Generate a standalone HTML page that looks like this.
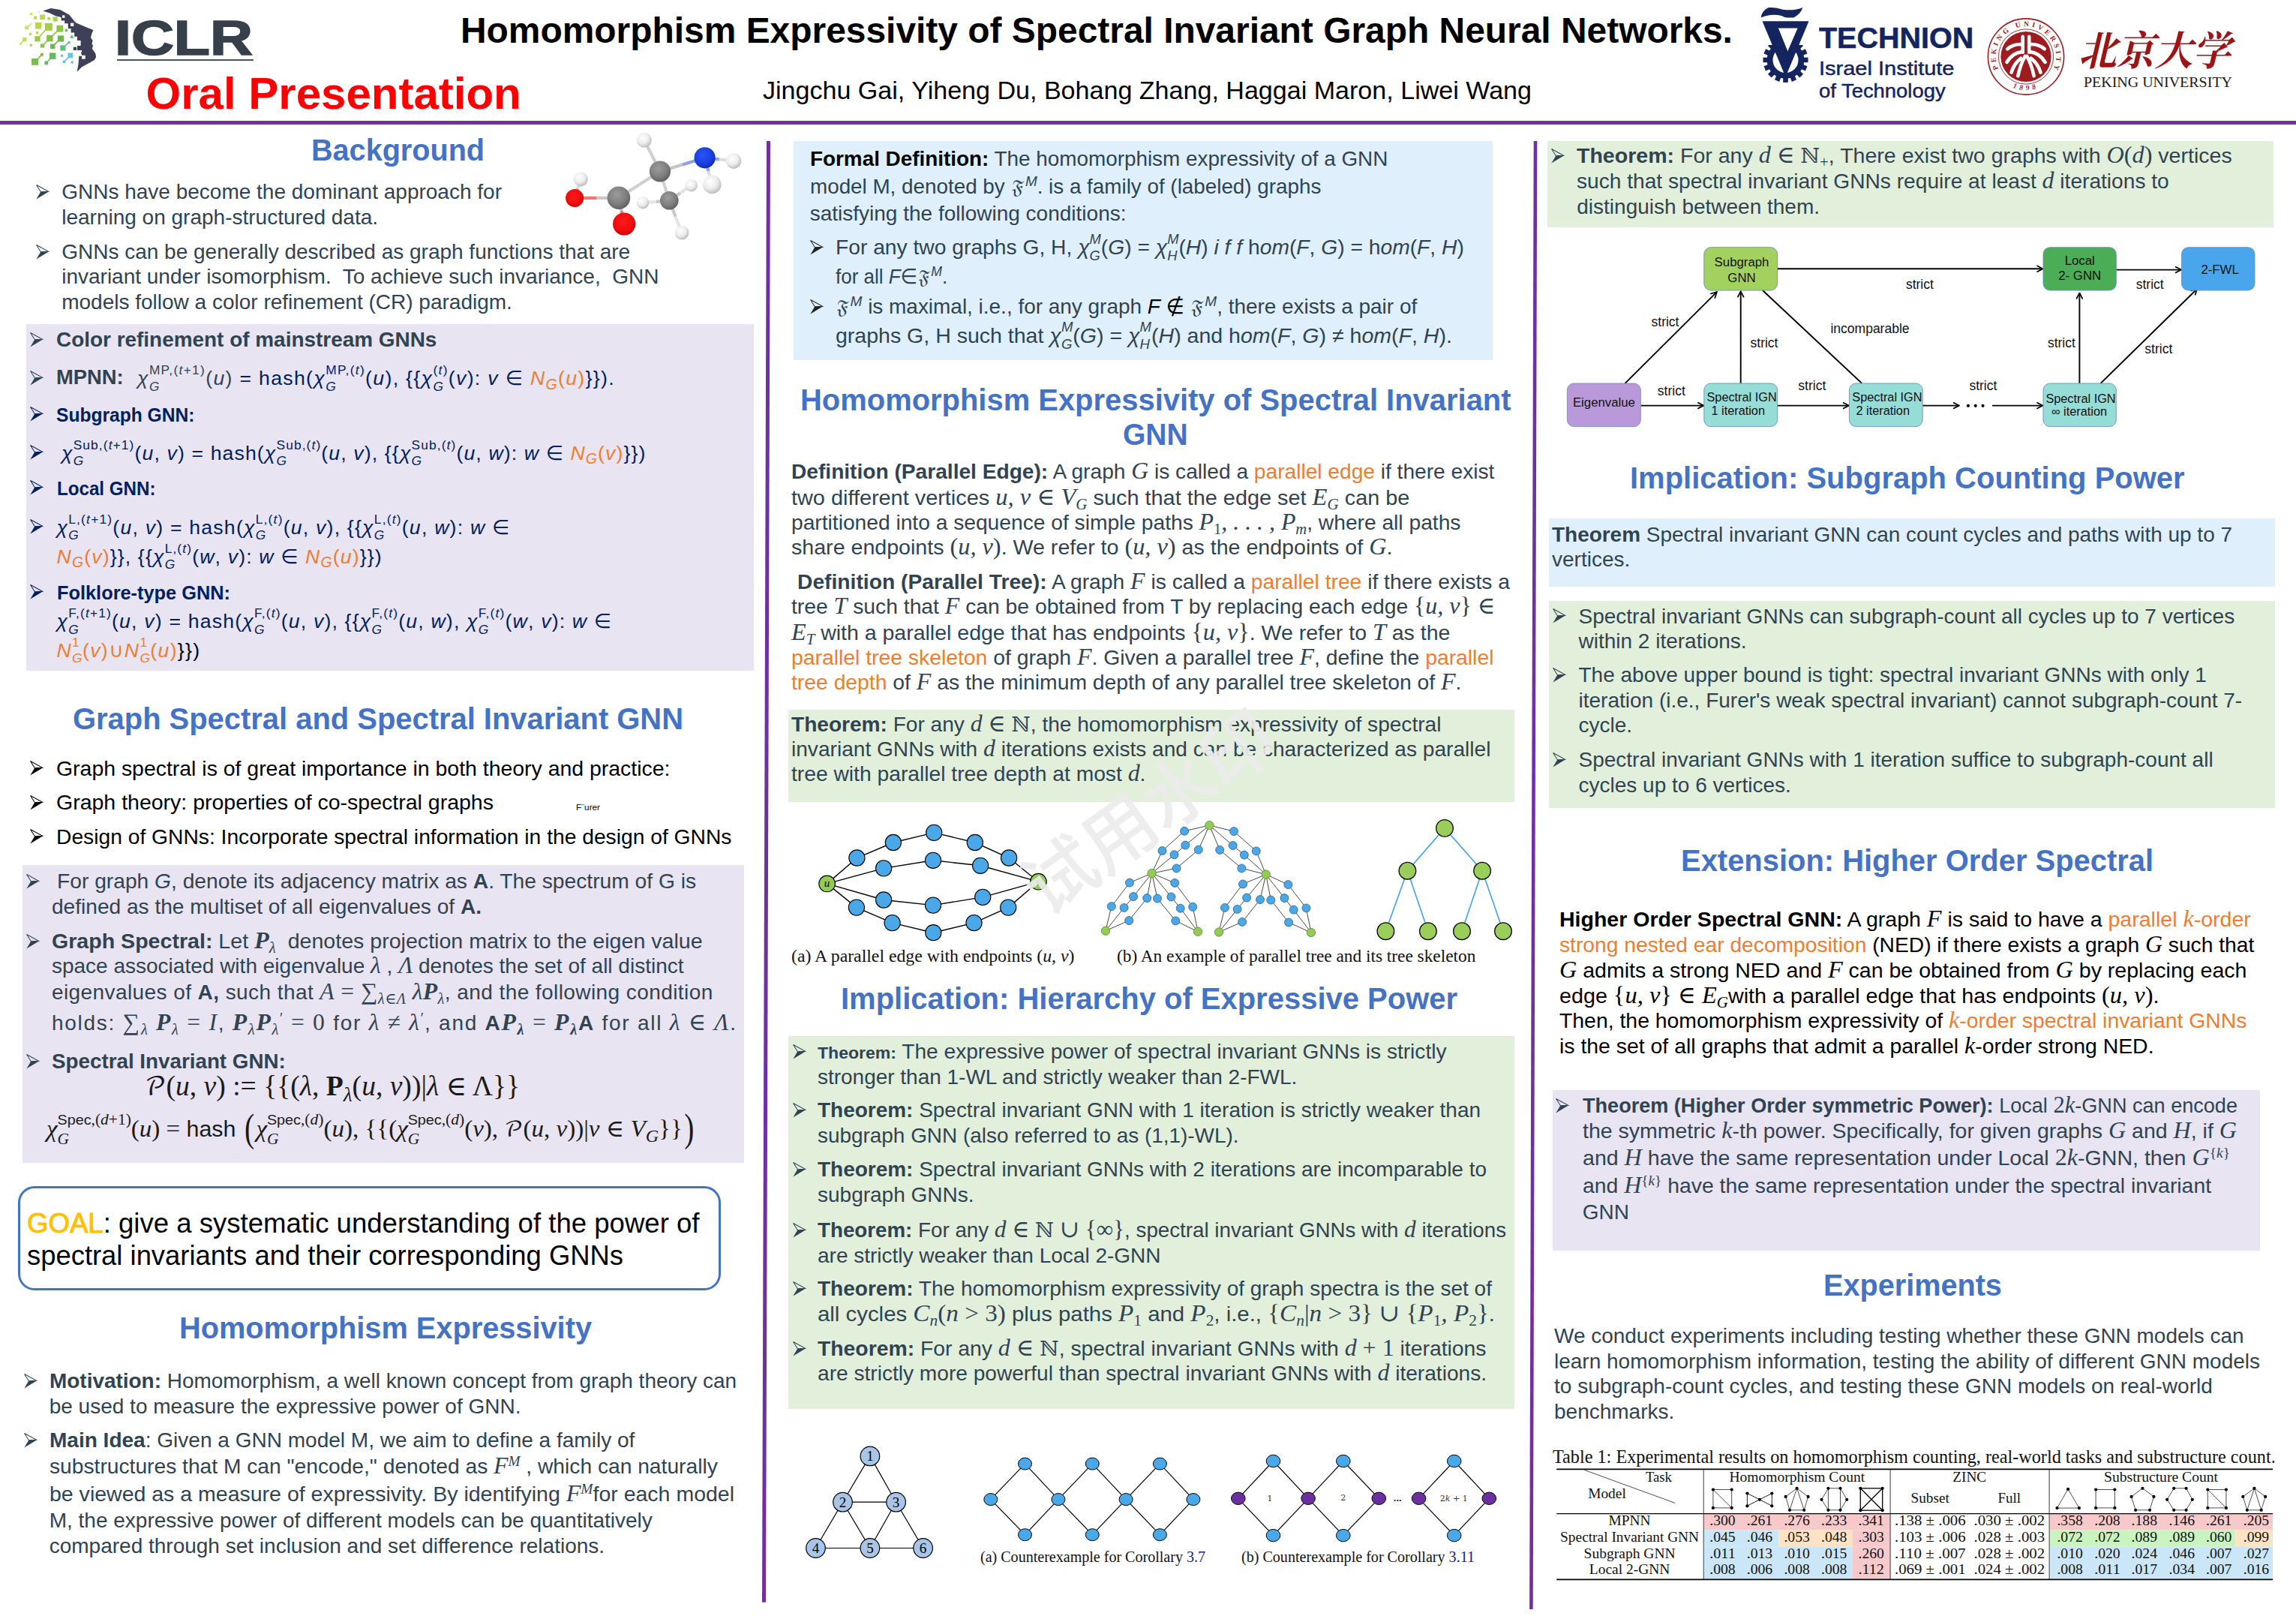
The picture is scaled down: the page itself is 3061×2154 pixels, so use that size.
<!DOCTYPE html>
<html lang="en"><head><meta charset="utf-8"><title>Homomorphism Expressivity of Spectral Invariant Graph Neural Networks</title>
<style>
html,body{margin:0;padding:0}
body{width:3061px;height:2154px;position:relative;overflow:hidden;background:#fff;font-family:"Liberation Sans","DejaVu Sans","DejaVu Math TeX Gyre",sans-serif}
.bx{position:absolute;box-sizing:content-box}
.t{position:absolute;white-space:nowrap;line-height:1;transform-origin:0 50%}
.t i,.t b{line-height:0}
.m{font-family:"Liberation Serif","DejaVu Serif",serif;font-style:italic;font-size:1.13em;line-height:0}
.mu{font-family:"Liberation Serif","DejaVu Serif","DejaVu Sans",serif;font-size:1.13em;line-height:0}
.su{font-size:.68em;position:relative;top:-.52em;line-height:0}
.sb{font-size:.73em;position:relative;top:.3em;line-height:0}
.su .m,.sb .m,.su .mu,.sb .mu{font-size:1em}
.ss{display:inline-block;position:relative;line-height:0}
.ss>span{font-size:.65em;line-height:0}
.ss>.u{position:relative;top:-.8em}
.ss>.d{position:absolute;left:0;top:.62em}
.fr{font-family:"DejaVu Math TeX Gyre","DejaVu Sans",serif;line-height:0;font-size:.82em}
.bbn{font-family:'DejaVu Serif','DejaVu Sans',serif;line-height:0;font-size:.98em}
.cal{font-family:"DejaVu Math TeX Gyre","DejaVu Serif",serif;line-height:0;font-size:.9em}
.sf{font-family:"Liberation Sans",sans-serif;font-size:.92em}
.bigp{font-size:1.7em;line-height:0;position:relative;top:.12em;font-weight:normal;display:inline-block;transform:scaleX(.7)}
svg{position:absolute;overflow:visible}
.wm{position:absolute;left:1228px;top:1017px;width:600px;height:120px;line-height:120px;text-align:center;font-family:'Noto Sans CJK SC','WenQuanYi Zen Hei',sans-serif;font-size:97px;font-weight:500;color:rgba(235,235,235,.92);transform:rotate(-35.6deg);white-space:nowrap;pointer-events:none}
svg text{font-family:"Liberation Sans",sans-serif}
</style></head>
<body>
<div class="bx" style="left:0.0px;top:161.0px;width:3061.0px;height:5.0px;background:#7030a0;"></div>
<div class="t" style="left:153.2px;top:19.2px;font-size:64.5px;color:#363f4a;font-weight:bold;transform:scaleX(1.2227);-webkit-text-stroke:1.6px #363f4a;">ICLR</div>
<div class="bx" style="left:155.6px;top:79.2px;width:182.0px;height:1.7px;background:#4a535e;"></div>
<div class="t" style="left:194.6px;top:95.0px;font-size:60px;color:#ff0000;font-weight:bold;">Oral Presentation</div>
<div class="t" style="left:614.0px;top:17.1px;font-size:48px;color:#000;font-weight:bold;transform:scaleX(0.9981);">Homomorphism Expressivity of Spectral Invariant Graph Neural Networks.</div>
<div class="t" style="left:1017.0px;top:102.7px;font-size:34px;color:#000;transform:scaleX(1.0018);">Jingchu Gai, Yiheng Du, Bohang Zhang, Haggai Maron, Liwei Wang</div>
<div class="t" style="left:415.0px;top:180.1px;font-size:40px;color:#4472c4;font-weight:bold;transform:scaleX(0.9899);">Background</div>
<svg style="left:47.8px;top:246.2px" width="17.5" height="20" viewBox="0 0 19 21" preserveAspectRatio="none"><path d="M6.7 10.3 18.3 9.9 0.4 20.4Z" fill="#304352"/><path d="M0.6 0.6 18 9.8 6.9 10.2Z" fill="none" stroke="#304352" stroke-width="1.1" stroke-linejoin="miter"/></svg>
<div class="t" style="left:82.2px;top:242.3px;font-size:28px;color:#304352;">GNNs have become the dominant approach for</div>
<div class="t" style="left:82.2px;top:275.7px;font-size:28px;color:#304352;">learning on graph-structured data.</div>
<svg style="left:47.8px;top:325.6px" width="17.5" height="20" viewBox="0 0 19 21" preserveAspectRatio="none"><path d="M6.7 10.3 18.3 9.9 0.4 20.4Z" fill="#304352"/><path d="M0.6 0.6 18 9.8 6.9 10.2Z" fill="none" stroke="#304352" stroke-width="1.1" stroke-linejoin="miter"/></svg>
<div class="t" style="left:82.2px;top:321.7px;font-size:28px;color:#304352;">GNNs can be generally described as graph functions that are</div>
<div class="t" style="left:82.2px;top:355.1px;font-size:28px;color:#304352;">invariant under isomorphism.&nbsp; To achieve such invariance,&nbsp; GNN</div>
<div class="t" style="left:82.2px;top:388.5px;font-size:28px;color:#304352;">models follow a color refinement (CR) paradigm.</div>
<div class="bx" style="left:35.0px;top:432.0px;width:970.0px;height:462.0px;background:#e9e4f1;"></div>
<svg style="left:39.8px;top:443.2px" width="17.5" height="20" viewBox="0 0 19 21" preserveAspectRatio="none"><path d="M6.7 10.3 18.3 9.9 0.4 20.4Z" fill="#304352"/><path d="M0.6 0.6 18 9.8 6.9 10.2Z" fill="none" stroke="#304352" stroke-width="1.1" stroke-linejoin="miter"/></svg>
<div class="t" style="left:74.6px;top:439.3px;font-size:28px;color:#304352;font-weight:bold;transform:scaleX(0.9973);">Color refinement of mainstream GNNs</div>
<svg style="left:39.8px;top:493.5px" width="17.5" height="20" viewBox="0 0 19 21" preserveAspectRatio="none"><path d="M6.7 10.3 18.3 9.9 0.4 20.4Z" fill="#304352"/><path d="M0.6 0.6 18 9.8 6.9 10.2Z" fill="none" stroke="#304352" stroke-width="1.1" stroke-linejoin="miter"/></svg>
<div class="t" style="left:74.8px;top:490.4px;font-size:27px;color:#304352;font-weight:bold;transform:scaleX(1.0124);">MPNN:</div>
<div class="t" style="left:183.0px;top:490.8px;font-size:26.6px;color:#304352;letter-spacing:1.345px;"><i>χ</i><span class="ss"><span class="u">MP,(<i>t</i>+1)</span><span class="d"><i>G</i></span></span>(<i>u</i>) <span style="color:#002060">= hash(</span><span style="color:#002060"><i>χ</i><span class="ss"><span class="u">MP,(<i>t</i>)</span><span class="d"><i>G</i></span></span>(<i>u</i>), {{<i>χ</i><span class="ss"><span class="u">(<i>t</i>)</span><span class="d"><i>G</i></span></span>(<i>v</i>): <i>v</i> ∈ </span><span style="color:#ed7d31"><i>N<span class="sb">G</span></i>(<i>u</i>)</span><span style="color:#002060">}}).</span></div>
<svg style="left:39.8px;top:542.2px" width="17.5" height="20" viewBox="0 0 19 21" preserveAspectRatio="none"><path d="M6.7 10.3 18.3 9.9 0.4 20.4Z" fill="#002060"/><path d="M0.6 0.6 18 9.8 6.9 10.2Z" fill="none" stroke="#002060" stroke-width="1.1" stroke-linejoin="miter"/></svg>
<div class="t" style="left:74.6px;top:540.8px;font-size:25px;color:#002060;font-weight:bold;transform:scaleX(0.9835);">Subgraph GNN:</div>
<svg style="left:39.8px;top:593.2px" width="17.5" height="20" viewBox="0 0 19 21" preserveAspectRatio="none"><path d="M6.7 10.3 18.3 9.9 0.4 20.4Z" fill="#002060"/><path d="M0.6 0.6 18 9.8 6.9 10.2Z" fill="none" stroke="#002060" stroke-width="1.1" stroke-linejoin="miter"/></svg>
<div class="t" style="left:82.0px;top:590.5px;font-size:26.6px;color:#002060;letter-spacing:1.137px;"><i>χ</i><span class="ss"><span class="u">Sub,(<i>t</i>+1)</span><span class="d"><i>G</i></span></span>(<i>u</i>, <i>v</i>) = hash(<i>χ</i><span class="ss"><span class="u">Sub,(<i>t</i>)</span><span class="d"><i>G</i></span></span>(<i>u</i>, <i>v</i>), {{<i>χ</i><span class="ss"><span class="u">Sub,(<i>t</i>)</span><span class="d"><i>G</i></span></span>(<i>u</i>, <i>w</i>): <i>w</i> ∈ <span style="color:#ed7d31"><i>N<span class="sb">G</span></i>(<i>v</i>)</span>}})</div>
<svg style="left:39.8px;top:640.2px" width="17.5" height="20" viewBox="0 0 19 21" preserveAspectRatio="none"><path d="M6.7 10.3 18.3 9.9 0.4 20.4Z" fill="#002060"/><path d="M0.6 0.6 18 9.8 6.9 10.2Z" fill="none" stroke="#002060" stroke-width="1.1" stroke-linejoin="miter"/></svg>
<div class="t" style="left:75.5px;top:638.8px;font-size:25px;color:#002060;font-weight:bold;transform:scaleX(0.9660);">Local GNN:</div>
<svg style="left:39.8px;top:692.2px" width="17.5" height="20" viewBox="0 0 19 21" preserveAspectRatio="none"><path d="M6.7 10.3 18.3 9.9 0.4 20.4Z" fill="#002060"/><path d="M0.6 0.6 18 9.8 6.9 10.2Z" fill="none" stroke="#002060" stroke-width="1.1" stroke-linejoin="miter"/></svg>
<div class="t" style="left:75.5px;top:689.5px;font-size:26.6px;color:#002060;letter-spacing:1.230px;"><i>χ</i><span class="ss"><span class="u">L,(<i>t</i>+1)</span><span class="d"><i>G</i></span></span>(<i>u</i>, <i>v</i>) = hash(<i>χ</i><span class="ss"><span class="u">L,(<i>t</i>)</span><span class="d"><i>G</i></span></span>(<i>u</i>, <i>v</i>), {{<i>χ</i><span class="ss"><span class="u">L,(<i>t</i>)</span><span class="d"><i>G</i></span></span>(<i>u</i>, <i>w</i>): <i>w</i> ∈</div>
<div class="t" style="left:75.5px;top:728.5px;font-size:26.6px;color:#002060;letter-spacing:1.161px;"><span style="color:#ed7d31"><i>N<span class="sb">G</span></i>(<i>v</i>)</span>}}, {{<i>χ</i><span class="ss"><span class="u">L,(<i>t</i>)</span><span class="d"><i>G</i></span></span>(<i>w</i>, <i>v</i>): <i>w</i> ∈ <span style="color:#ed7d31"><i>N<span class="sb">G</span></i>(<i>u</i>)</span>}})</div>
<svg style="left:39.8px;top:779.2px" width="17.5" height="20" viewBox="0 0 19 21" preserveAspectRatio="none"><path d="M6.7 10.3 18.3 9.9 0.4 20.4Z" fill="#002060"/><path d="M0.6 0.6 18 9.8 6.9 10.2Z" fill="none" stroke="#002060" stroke-width="1.1" stroke-linejoin="miter"/></svg>
<div class="t" style="left:75.5px;top:777.8px;font-size:25px;color:#002060;font-weight:bold;transform:scaleX(1.0141);">Folklore-type GNN:</div>
<div class="t" style="left:75.5px;top:815.1px;font-size:26.6px;color:#002060;letter-spacing:1.193px;"><i>χ</i><span class="ss"><span class="u">F,(<i>t</i>+1)</span><span class="d"><i>G</i></span></span>(<i>u</i>, <i>v</i>) = hash(<i>χ</i><span class="ss"><span class="u">F,(<i>t</i>)</span><span class="d"><i>G</i></span></span>(<i>u</i>, <i>v</i>), {{<i>χ</i><span class="ss"><span class="u">F,(<i>t</i>)</span><span class="d"><i>G</i></span></span>(<i>u</i>, <i>w</i>), <i>χ</i><span class="ss"><span class="u">F,(<i>t</i>)</span><span class="d"><i>G</i></span></span>(<i>w</i>, <i>v</i>): <i>w</i> ∈</div>
<div class="t" style="left:75.5px;top:853.5px;font-size:26.6px;color:#002060;letter-spacing:1.361px;"><span style="color:#ed7d31"><i>N</i><span class="ss" style="min-width:.52em"><span class="u">1</span><span class="d"><i>G</i></span></span>(<i>v</i>)∪<i>N</i><span class="ss" style="min-width:.52em"><span class="u">1</span><span class="d"><i>G</i></span></span>(<i>u</i>)</span><span style="color:#000">}})</span></div>
<div class="t" style="left:96.8px;top:938.1px;font-size:40px;color:#4472c4;font-weight:bold;transform:scaleX(0.9978);">Graph Spectral and Spectral Invariant GNN</div>
<svg style="left:39.8px;top:1014.2px" width="17.5" height="20" viewBox="0 0 19 21" preserveAspectRatio="none"><path d="M6.7 10.3 18.3 9.9 0.4 20.4Z" fill="#000"/><path d="M0.6 0.6 18 9.8 6.9 10.2Z" fill="none" stroke="#000" stroke-width="1.1" stroke-linejoin="miter"/></svg>
<div class="t" style="left:74.6px;top:1010.0px;font-size:28.3px;color:#000;transform:scaleX(1.0045);">Graph spectral is of great importance in both theory and practice:</div>
<svg style="left:39.8px;top:1059.5px" width="17.5" height="20" viewBox="0 0 19 21" preserveAspectRatio="none"><path d="M6.7 10.3 18.3 9.9 0.4 20.4Z" fill="#000"/><path d="M0.6 0.6 18 9.8 6.9 10.2Z" fill="none" stroke="#000" stroke-width="1.1" stroke-linejoin="miter"/></svg>
<div class="t" style="left:74.6px;top:1055.3px;font-size:28.3px;color:#000;transform:scaleX(1.0072);">Graph theory: properties of co-spectral graphs</div>
<div class="t" style="left:767.6px;top:1071.1px;font-size:10.5px;color:#000;transform:scaleX(1.1191);">F¨urer</div>
<svg style="left:39.8px;top:1105.2px" width="17.5" height="20" viewBox="0 0 19 21" preserveAspectRatio="none"><path d="M6.7 10.3 18.3 9.9 0.4 20.4Z" fill="#000"/><path d="M0.6 0.6 18 9.8 6.9 10.2Z" fill="none" stroke="#000" stroke-width="1.1" stroke-linejoin="miter"/></svg>
<div class="t" style="left:74.6px;top:1101.0px;font-size:28.3px;color:#000;transform:scaleX(0.9974);">Design of GNNs: Incorporate spectral information in the design of GNNs</div>
<div class="bx" style="left:30.0px;top:1153.0px;width:962.0px;height:396.5px;background:#e9e4f1;"></div>
<svg style="left:35.3px;top:1165.2px" width="17.5" height="20" viewBox="0 0 19 21" preserveAspectRatio="none"><path d="M6.7 10.3 18.3 9.9 0.4 20.4Z" fill="#304352"/><path d="M0.6 0.6 18 9.8 6.9 10.2Z" fill="none" stroke="#304352" stroke-width="1.1" stroke-linejoin="miter"/></svg>
<div class="t" style="left:75.5px;top:1161.3px;font-size:28px;color:#304352;transform:scaleX(1.0070);">For graph <i>G</i>, denote its adjacency matrix as <b>A</b>. The spectrum of G is</div>
<div class="t" style="left:68.9px;top:1194.6px;font-size:28px;color:#304352;transform:scaleX(1.0031);">defined as the multiset of all eigenvalues of <b>A.</b></div>
<svg style="left:35.3px;top:1245.2px" width="17.5" height="20" viewBox="0 0 19 21" preserveAspectRatio="none"><path d="M6.7 10.3 18.3 9.9 0.4 20.4Z" fill="#304352"/><path d="M0.6 0.6 18 9.8 6.9 10.2Z" fill="none" stroke="#304352" stroke-width="1.1" stroke-linejoin="miter"/></svg>
<div class="t" style="left:68.9px;top:1241.3px;font-size:28px;color:#304352;transform:scaleX(1.0207);"><b>Graph Spectral:</b> Let <b class="m">P</b><span class="sb"><i class="m" style="font-size:1em">λ</i></span>&nbsp; denotes projection matrix to the eigen value</div>
<div class="t" style="left:68.9px;top:1273.7px;font-size:28px;color:#304352;letter-spacing:0.007px;">space associated with eigenvalue <span class="m">λ</span> , <span class="m">Λ</span> denotes the set of all distinct</div>
<div class="t" style="left:68.9px;top:1308.8px;font-size:28px;color:#304352;letter-spacing:0.424px;">eigenvalues of <b>A,</b> such that <span class="m">A</span> <span class="mu">= ∑</span><span class="sb"><span class="m">λ∈Λ</span></span> <span class="m">λ</span><b class="m">P</b><span class="sb"><i class="m" style="font-size:1em">λ</i></span>, and the following condition</div>
<div class="t" style="left:68.9px;top:1350.0px;font-size:28px;color:#304352;letter-spacing:1.744px;">holds: <span class="mu">∑</span><span class="sb"><span class="m">λ</span></span> <b class="m">P</b><span class="sb"><i class="m" style="font-size:1em">λ</i></span> <span class="mu">=</span> <span class="m">I</span>, <b class="m">P</b><span class="sb"><i class="m" style="font-size:1em">λ</i></span><b class="m">P</b><span class="sb"><i class="m" style="font-size:1em">λ</i></span><span class="su">′</span> <span class="mu">= 0</span> for <span class="m">λ</span> <span class="mu">≠</span> <span class="m">λ</span><span class="su">′</span>, and <b>A</b><b class="m">P</b><span class="sb"><b class="m" style="font-size:1em">λ</b></span> <span class="mu">=</span> <b class="m">P</b><span class="sb"><b class="m" style="font-size:1em">λ</b></span><b>A</b> for all <span class="m">λ</span> <span class="mu">∈</span> <span class="m">Λ</span>.</div>
<svg style="left:35.3px;top:1405.1px" width="17.5" height="20" viewBox="0 0 19 21" preserveAspectRatio="none"><path d="M6.7 10.3 18.3 9.9 0.4 20.4Z" fill="#304352"/><path d="M0.6 0.6 18 9.8 6.9 10.2Z" fill="none" stroke="#304352" stroke-width="1.1" stroke-linejoin="miter"/></svg>
<div class="t" style="left:68.9px;top:1401.2px;font-size:28px;color:#304352;font-weight:bold;transform:scaleX(0.9920);">Spectral Invariant GNN:</div>
<div class="t" style="left:193.0px;top:1428.7px;font-size:37px;color:#1a1a1a;font-family:'Liberation Serif','DejaVu Serif',serif;transform:scaleX(1.0150);"><span class="cal">𝒫</span>(<i>u</i>, <i>v</i>) := {{(<i>λ</i>, <b>P</b><span class="sb"><i>λ</i></span>(<i>u</i>, <i>v</i>))|<i>λ</i> ∈ Λ}}</div>
<div class="t" style="left:62.0px;top:1488.9px;font-size:31.5px;color:#1a1a1a;font-family:'Liberation Serif','DejaVu Serif',serif;transform:scaleX(1.0489);"><i>χ</i><span class="ss"><span class="u"><span class="sf">Spec</span>,(<i>d</i>+1)</span><span class="d"><i>G</i></span></span>(<i>u</i>) = <span class="sf">hash</span> <span class="bigp">(</span><i>χ</i><span class="ss"><span class="u"><span class="sf">Spec</span>,(<i>d</i>)</span><span class="d"><i>G</i></span></span>(<i>u</i>), {{(<i>χ</i><span class="ss"><span class="u"><span class="sf">Spec</span>,(<i>d</i>)</span><span class="d"><i>G</i></span></span>(<i>v</i>), <span class="cal">𝒫</span>(<i>u</i>, <i>v</i>))|<i>v</i> ∈ <i>V</i><span class="sb"><i>G</i></span>}}<span class="bigp">)</span></div>
<div class="bx" style="left:24.4px;top:1581.3px;width:930.4px;height:132.5px;border:3.5px solid #4472c4;border-radius:22px"></div>
<div class="t" style="left:35.5px;top:1612.7px;font-size:36.4px;color:#000;transform:scaleX(1.0050);"><span style="color:#ffc000;-webkit-text-stroke:.9px #ffc000">GOAL</span>: give a systematic understanding of the power of</div>
<div class="t" style="left:35.5px;top:1655.8px;font-size:36.4px;color:#000;transform:scaleX(1.0001);">spectral invariants and their corresponding GNNs</div>
<div class="t" style="left:238.6px;top:1749.6px;font-size:40px;color:#4472c4;font-weight:bold;transform:scaleX(0.9937);">Homomorphism Expressivity</div>
<svg style="left:31.8px;top:1831.2px" width="17.5" height="20" viewBox="0 0 19 21" preserveAspectRatio="none"><path d="M6.7 10.3 18.3 9.9 0.4 20.4Z" fill="#304352"/><path d="M0.6 0.6 18 9.8 6.9 10.2Z" fill="none" stroke="#304352" stroke-width="1.1" stroke-linejoin="miter"/></svg>
<div class="t" style="left:65.7px;top:1827.3px;font-size:28px;color:#304352;transform:scaleX(0.9978);"><b>Motivation:</b> Homomorphism, a well known concept from graph theory can</div>
<div class="t" style="left:65.7px;top:1860.6px;font-size:28px;color:#304352;">be used to measure the expressive power of GNN.</div>
<svg style="left:31.8px;top:1909.8px" width="17.5" height="20" viewBox="0 0 19 21" preserveAspectRatio="none"><path d="M6.7 10.3 18.3 9.9 0.4 20.4Z" fill="#304352"/><path d="M0.6 0.6 18 9.8 6.9 10.2Z" fill="none" stroke="#304352" stroke-width="1.1" stroke-linejoin="miter"/></svg>
<div class="t" style="left:65.7px;top:1905.9px;font-size:28px;color:#304352;transform:scaleX(1.0009);"><b>Main Idea</b>: Given a GNN model M, we aim to define a family of</div>
<div class="t" style="left:65.7px;top:1941.3px;font-size:28px;color:#304352;transform:scaleX(1.0069);">substructures that M can "encode," denoted as <span class="m">F</span><span class="su"><span class="m">M</span></span> , which can naturally</div>
<div class="t" style="left:65.7px;top:1978.3px;font-size:28px;color:#304352;transform:scaleX(1.0180);">be viewed as a measure of expressivity. By identifying <span class="m">F</span><span class="su"><span class="m">M</span></span>for each model</div>
<div class="t" style="left:65.7px;top:2013.0px;font-size:28px;color:#304352;">M, the expressive power of different models can be quantitatively</div>
<div class="t" style="left:65.7px;top:2047.2px;font-size:28px;color:#304352;">compared through set inclusion and set difference relations.</div>
<div class="t" style="left:2424.8px;top:31.9px;font-size:38px;color:#14245e;font-weight:bold;transform:scaleX(1.0390);-webkit-text-stroke:.5px #14245e;">TECHNION</div>
<div class="t" style="left:2424.8px;top:77.7px;font-size:26px;color:#14245e;transform:scaleX(1.1152);-webkit-text-stroke:.45px #14245e;">Israel Institute</div>
<div class="t" style="left:2424.8px;top:108.3px;font-size:26px;color:#14245e;transform:scaleX(1.0539);-webkit-text-stroke:.45px #14245e;">of Technology</div>
<div class="t" style="left:2771.0px;top:37.3px;font-size:54px;color:#9e1414;font-weight:bold;transform:scaleX(0.9398);font-family:'Noto Serif CJK SC','Noto Sans CJK SC',serif;font-style:italic;">北京大学</div>
<div class="t" style="left:2778.0px;top:99.6px;font-size:19px;color:#231815;font-family:'Liberation Serif','DejaVu Serif',serif;transform:scaleX(1.0509);">PEKING UNIVERSITY</div>
<div class="bx" style="left:1058.0px;top:188.0px;width:932.0px;height:292.0px;background:#dff0fc;"></div>
<div class="t" style="left:1079.7px;top:198.3px;font-size:28px;color:#304352;transform:scaleX(0.9948);"><b style="color:#000">Formal Definition:</b> The homomorphism expressivity of a GNN</div>
<div class="t" style="left:1079.7px;top:234.8px;font-size:28px;color:#304352;transform:scaleX(0.9931);">model M, denoted by <span class="fr">𝔉</span><span class="su"><i>M</i></span>. is a family of (labeled) graphs</div>
<div class="t" style="left:1079.7px;top:270.8px;font-size:28px;color:#304352;">satisfying the following conditions:</div>
<svg style="left:1079.8px;top:320.0px" width="17.5" height="20" viewBox="0 0 19 21" preserveAspectRatio="none"><path d="M6.7 10.3 18.3 9.9 0.4 20.4Z" fill="#222"/><path d="M0.6 0.6 18 9.8 6.9 10.2Z" fill="none" stroke="#222" stroke-width="1.1" stroke-linejoin="miter"/></svg>
<div class="t" style="left:1114.2px;top:316.1px;font-size:28px;color:#304352;transform:scaleX(1.0080);">For any two graphs G, H, <i>χ</i><span class="ss"><span class="u"><i>M</i></span><span class="d"><i>G</i></span></span>(<i>G</i>) = <i>χ</i><span class="ss"><span class="u"><i>M</i></span><span class="d"><i>H</i></span></span>(<i>H</i>) <i>i f f</i> h<i>om</i>(<i>F</i>, <i>G</i>) = h<i>om</i>(<i>F</i>, <i>H</i>)</div>
<div class="t" style="left:1114.2px;top:355.3px;font-size:28px;color:#304352;transform:scaleX(0.9272);">for all <i>F</i>∈<span class="fr">𝔉</span><span class="su"><i>M</i></span>.</div>
<svg style="left:1079.8px;top:398.7px" width="17.5" height="20" viewBox="0 0 19 21" preserveAspectRatio="none"><path d="M6.7 10.3 18.3 9.9 0.4 20.4Z" fill="#222"/><path d="M0.6 0.6 18 9.8 6.9 10.2Z" fill="none" stroke="#222" stroke-width="1.1" stroke-linejoin="miter"/></svg>
<div class="t" style="left:1114.2px;top:394.8px;font-size:28px;color:#304352;transform:scaleX(0.9977);"><span class="fr">𝔉</span><span class="su"><i>M</i></span> is maximal, i.e., for any graph <span style="color:#000"><i>F</i> ∉</span> <span class="fr">𝔉</span><span class="su"><i>M</i></span>, there exists a pair of</div>
<div class="t" style="left:1114.2px;top:433.9px;font-size:28px;color:#304352;transform:scaleX(1.0185);">graphs G, H such that <i>χ</i><span class="ss"><span class="u"><i>M</i></span><span class="d"><i>G</i></span></span>(<i>G</i>) = <i>χ</i><span class="ss"><span class="u"><i>M</i></span><span class="d"><i>H</i></span></span>(<i>H</i>) and h<i>om</i>(<i>F</i>, <i>G</i>) ≠ h<i>om</i>(<i>F</i>, <i>H</i>).</div>
<div class="t" style="left:1066.6px;top:512.7px;font-size:40px;color:#4472c4;font-weight:bold;transform:scaleX(0.9983);">Homomorphism Expressivity of Spectral Invariant</div>
<div class="t" style="left:1496.7px;top:559.4px;font-size:40px;color:#4472c4;font-weight:bold;transform:scaleX(0.9742);">GNN</div>
<div class="t" style="left:1054.6px;top:614.9px;font-size:28px;color:#304352;transform:scaleX(1.0044);"><b>Definition (Parallel Edge):</b> A graph <span class="m">G</span> is called a <span style="color:#ed7d31">parallel edge</span> if there exist</div>
<div class="t" style="left:1054.6px;top:649.5px;font-size:28px;color:#304352;transform:scaleX(1.0307);">two different vertices <span class="m">u, v</span> <span class="mu">∈</span> <span class="m">V</span><span class="sb"><span class="m">G</span></span> such that the edge set <span class="m">E</span><span class="sb"><span class="m">G</span></span> can be</div>
<div class="t" style="left:1054.6px;top:682.9px;font-size:28px;color:#304352;transform:scaleX(1.0064);">partitioned into a sequence of simple paths <span class="m">P</span><span class="sb"><span class="mu">1</span></span><span class="m">, . . . , P</span><span class="sb"><span class="m">m</span></span>, where all paths</div>
<div class="t" style="left:1054.6px;top:716.2px;font-size:28px;color:#304352;transform:scaleX(1.0213);">share endpoints <span class="mu">(</span><span class="m">u, v</span><span class="mu">)</span>. We refer to <span class="mu">(</span><span class="m">u, v</span><span class="mu">)</span> as the endpoints of <span class="m">G</span>.</div>
<div class="t" style="left:1063.0px;top:761.9px;font-size:28px;color:#304352;transform:scaleX(1.0083);"><b>Definition (Parallel Tree):</b> A graph <span class="m">F</span> is called a <span style="color:#ed7d31">parallel tree</span> if there exists a</div>
<div class="t" style="left:1054.6px;top:795.3px;font-size:28px;color:#304352;transform:scaleX(1.0098);">tree <span class="m">T</span> such that <span class="m">F</span> can be obtained from T by replacing each edge <span class="mu">{</span><span class="m">u, v</span><span class="mu">} ∈</span></div>
<div class="t" style="left:1054.6px;top:829.5px;font-size:28px;color:#304352;transform:scaleX(1.0176);"><span class="m">E</span><span class="sb"><span class="m">T</span></span> with a parallel edge that has endpoints <span class="mu">{</span><span class="m">u, v</span><span class="mu">}</span>. We refer to <span class="m">T</span> as the</div>
<div class="t" style="left:1054.6px;top:862.8px;font-size:28px;color:#304352;transform:scaleX(1.0114);"><span style="color:#ed7d31">parallel tree skeleton</span> of graph <span class="m">F</span>. Given a parallel tree <span class="m">F</span>, define the <span style="color:#ed7d31">parallel</span></div>
<div class="t" style="left:1054.6px;top:896.1px;font-size:28px;color:#304352;transform:scaleX(1.0108);"><span style="color:#ed7d31">tree depth</span> of <span class="m">F</span> as the minimum depth of any parallel tree skeleton of <span class="m">F</span>.</div>
<div class="bx" style="left:1051.0px;top:945.6px;width:967.7px;height:123.0px;background:#e2efda;"></div>
<div class="t" style="left:1054.6px;top:951.6px;font-size:28px;color:#304352;transform:scaleX(1.0026);"><b>Theorem:</b> For any <span class="m">d</span> <span class="mu">∈</span> <span class="bbn">ℕ</span>, the homomorphism expressivity of spectral</div>
<div class="t" style="left:1054.6px;top:985.0px;font-size:28px;color:#304352;transform:scaleX(1.0033);">invariant GNNs with <span class="m">d</span> iterations exists and can be characterized as parallel</div>
<div class="t" style="left:1054.6px;top:1018.3px;font-size:28px;color:#304352;transform:scaleX(1.0079);">tree with parallel tree depth at most <span class="m">d</span>.</div>
<div class="t" style="left:1054.6px;top:1262.5px;font-size:23.3px;color:#111;font-family:'Liberation Serif','DejaVu Serif',serif;transform:scaleX(1.0198);">(a) A parallel edge with endpoints (<i>u</i>, <i>v</i>)</div>
<div class="t" style="left:1488.7px;top:1262.5px;font-size:23.3px;color:#111;font-family:'Liberation Serif','DejaVu Serif',serif;transform:scaleX(1.0005);">(b) An example of parallel tree and its tree skeleton</div>
<div class="t" style="left:1121.0px;top:1311.1px;font-size:40px;color:#4472c4;font-weight:bold;transform:scaleX(0.9994);">Implication: Hierarchy of Expressive Power</div>
<div class="bx" style="left:1051.0px;top:1381.0px;width:967.7px;height:497.0px;background:#e2efda;"></div>
<svg style="left:1056.8px;top:1391.8px" width="17.5" height="20" viewBox="0 0 19 21" preserveAspectRatio="none"><path d="M6.7 10.3 18.3 9.9 0.4 20.4Z" fill="#304352"/><path d="M0.6 0.6 18 9.8 6.9 10.2Z" fill="none" stroke="#304352" stroke-width="1.1" stroke-linejoin="miter"/></svg>
<div class="t" style="left:1090.0px;top:1387.9px;font-size:28px;color:#304352;transform:scaleX(1.0037);"><b style="font-size:.82em">Theorem:</b> The expressive power of spectral invariant GNNs is strictly</div>
<div class="t" style="left:1090.0px;top:1421.8px;font-size:28px;color:#304352;transform:scaleX(0.9987);">stronger than 1-WL and strictly weaker than 2-FWL.</div>
<svg style="left:1056.8px;top:1470.2px" width="17.5" height="20" viewBox="0 0 19 21" preserveAspectRatio="none"><path d="M6.7 10.3 18.3 9.9 0.4 20.4Z" fill="#304352"/><path d="M0.6 0.6 18 9.8 6.9 10.2Z" fill="none" stroke="#304352" stroke-width="1.1" stroke-linejoin="miter"/></svg>
<div class="t" style="left:1090.0px;top:1466.3px;font-size:28px;color:#304352;transform:scaleX(0.9984);"><b>Theorem:</b> Spectral invariant GNN with 1 iteration is strictly weaker than</div>
<div class="t" style="left:1090.0px;top:1500.3px;font-size:28px;color:#304352;transform:scaleX(0.9968);">subgraph GNN (also referred to as (1,1)-WL).</div>
<svg style="left:1056.8px;top:1549.2px" width="17.5" height="20" viewBox="0 0 19 21" preserveAspectRatio="none"><path d="M6.7 10.3 18.3 9.9 0.4 20.4Z" fill="#304352"/><path d="M0.6 0.6 18 9.8 6.9 10.2Z" fill="none" stroke="#304352" stroke-width="1.1" stroke-linejoin="miter"/></svg>
<div class="t" style="left:1090.0px;top:1545.3px;font-size:28px;color:#304352;transform:scaleX(0.9986);"><b>Theorem:</b> Spectral invariant GNNs with 2 iterations are incomparable to</div>
<div class="t" style="left:1090.0px;top:1579.3px;font-size:28px;color:#304352;">subgraph GNNs.</div>
<svg style="left:1056.8px;top:1630.2px" width="17.5" height="20" viewBox="0 0 19 21" preserveAspectRatio="none"><path d="M6.7 10.3 18.3 9.9 0.4 20.4Z" fill="#304352"/><path d="M0.6 0.6 18 9.8 6.9 10.2Z" fill="none" stroke="#304352" stroke-width="1.1" stroke-linejoin="miter"/></svg>
<div class="t" style="left:1090.0px;top:1626.3px;font-size:28px;color:#304352;transform:scaleX(0.9905);"><b>Theorem:</b> For any <span class="m">d</span> <span class="mu">∈</span> <span class="bbn">ℕ</span> <span class="mu">∪ {∞}</span>, spectral invariant GNNs with <span class="m">d</span> iterations</div>
<div class="t" style="left:1090.0px;top:1659.5px;font-size:28px;color:#304352;">are strictly weaker than Local 2-GNN</div>
<svg style="left:1056.8px;top:1707.8px" width="17.5" height="20" viewBox="0 0 19 21" preserveAspectRatio="none"><path d="M6.7 10.3 18.3 9.9 0.4 20.4Z" fill="#304352"/><path d="M0.6 0.6 18 9.8 6.9 10.2Z" fill="none" stroke="#304352" stroke-width="1.1" stroke-linejoin="miter"/></svg>
<div class="t" style="left:1090.0px;top:1703.9px;font-size:28px;color:#304352;transform:scaleX(1.0000);"><b>Theorem:</b> The homomorphism expressivity of graph spectra is the set of</div>
<div class="t" style="left:1090.0px;top:1738.1px;font-size:28px;color:#304352;transform:scaleX(1.0491);">all cycles <span class="m">C</span><span class="sb"><span class="m">n</span></span><span class="mu">(</span><span class="m">n</span><span class="mu"> &gt; 3)</span> plus paths <span class="m">P</span><span class="sb"><span class="mu">1</span></span> and <span class="m">P</span><span class="sb"><span class="mu">2</span></span>, i.e., <span class="mu">{</span><span class="m">C</span><span class="sb"><span class="m">n</span></span><span class="mu">|</span><span class="m">n</span><span class="mu"> &gt; 3} ∪ {</span><span class="m">P</span><span class="sb"><span class="mu">1</span></span><span class="m">, P</span><span class="sb"><span class="mu">2</span></span><span class="mu">}</span>.</div>
<svg style="left:1056.8px;top:1787.8px" width="17.5" height="20" viewBox="0 0 19 21" preserveAspectRatio="none"><path d="M6.7 10.3 18.3 9.9 0.4 20.4Z" fill="#304352"/><path d="M0.6 0.6 18 9.8 6.9 10.2Z" fill="none" stroke="#304352" stroke-width="1.1" stroke-linejoin="miter"/></svg>
<div class="t" style="left:1090.0px;top:1783.9px;font-size:28px;color:#304352;transform:scaleX(1.0118);"><b>Theorem:</b> For any <span class="m">d</span> <span class="mu">∈</span> <span class="bbn">ℕ</span>, spectral invariant GNNs with <span class="m">d</span> <span class="mu">+ 1</span> iterations</div>
<div class="t" style="left:1090.0px;top:1817.3px;font-size:28px;color:#304352;transform:scaleX(1.0036);">are strictly more powerful than spectral invariant GNNs with <span class="m">d</span> iterations.</div>
<div class="t" style="left:1306.5px;top:2065.2px;font-size:20px;color:#111;font-family:'Liberation Serif','DejaVu Serif',serif;transform:scaleX(1.0021);">(a) Counterexample for Corollary <span style="color:#1a237e">3.7</span></div>
<div class="t" style="left:1655.0px;top:2065.2px;font-size:20px;color:#111;font-family:'Liberation Serif','DejaVu Serif',serif;transform:scaleX(1.0041);">(b) Counterexample for Corollary <span style="color:#1a237e">3.11</span></div>
<div class="bx" style="left:2063.0px;top:188.0px;width:968.0px;height:115.3px;background:#e2efda;"></div>
<svg style="left:2067.8px;top:198.1px" width="17.5" height="20" viewBox="0 0 19 21" preserveAspectRatio="none"><path d="M6.7 10.3 18.3 9.9 0.4 20.4Z" fill="#304352"/><path d="M0.6 0.6 18 9.8 6.9 10.2Z" fill="none" stroke="#304352" stroke-width="1.1" stroke-linejoin="miter"/></svg>
<div class="t" style="left:2102.3px;top:194.2px;font-size:28px;color:#304352;transform:scaleX(1.0193);"><b>Theorem:</b> For any <span class="m">d</span> <span class="mu">∈</span> <span class="bbn">ℕ</span><span class="sb"><span class="mu">+</span></span>, There exist two graphs with <span class="m">O</span><span class="mu">(</span><span class="m">d</span><span class="mu">)</span> vertices</div>
<div class="t" style="left:2102.3px;top:228.3px;font-size:28px;color:#304352;transform:scaleX(1.0045);">such that spectral invariant GNNs require at least <span class="m">d</span> iterations to</div>
<div class="t" style="left:2102.3px;top:261.8px;font-size:28px;color:#304352;">distinguish between them.</div>
<div class="t" style="left:2173.4px;top:617.4px;font-size:40px;color:#4472c4;font-weight:bold;transform:scaleX(0.9995);">Implication: Subgraph Counting Power</div>
<div class="bx" style="left:2065.3px;top:691.0px;width:967.7px;height:91.3px;background:#dff0fc;"></div>
<div class="t" style="left:2069.0px;top:698.5px;font-size:28px;color:#304352;transform:scaleX(0.9979);"><b>Theorem</b> Spectral invariant GNN can count cycles and paths with up to 7</div>
<div class="t" style="left:2069.0px;top:731.9px;font-size:28px;color:#304352;">vertices.</div>
<div class="bx" style="left:2065.3px;top:801.0px;width:967.7px;height:276.0px;background:#e2efda;"></div>
<svg style="left:2069.8px;top:811.4px" width="17.5" height="20" viewBox="0 0 19 21" preserveAspectRatio="none"><path d="M6.7 10.3 18.3 9.9 0.4 20.4Z" fill="#304352"/><path d="M0.6 0.6 18 9.8 6.9 10.2Z" fill="none" stroke="#304352" stroke-width="1.1" stroke-linejoin="miter"/></svg>
<div class="t" style="left:2104.5px;top:807.5px;font-size:28px;color:#304352;">Spectral invariant GNNs can subgraph-count all cycles up to 7 vertices</div>
<div class="t" style="left:2104.5px;top:840.8px;font-size:28px;color:#304352;">within 2 iterations.</div>
<svg style="left:2069.8px;top:890.2px" width="17.5" height="20" viewBox="0 0 19 21" preserveAspectRatio="none"><path d="M6.7 10.3 18.3 9.9 0.4 20.4Z" fill="#304352"/><path d="M0.6 0.6 18 9.8 6.9 10.2Z" fill="none" stroke="#304352" stroke-width="1.1" stroke-linejoin="miter"/></svg>
<div class="t" style="left:2104.5px;top:886.3px;font-size:28px;color:#304352;">The above upper bound is tight: spectral invariant GNNs with only 1</div>
<div class="t" style="left:2104.5px;top:919.8px;font-size:28px;color:#304352;">iteration (i.e., Furer's weak spectral invariant) cannot subgraph-count 7-</div>
<div class="t" style="left:2104.5px;top:953.1px;font-size:28px;color:#304352;">cycle.</div>
<svg style="left:2069.8px;top:1002.6px" width="17.5" height="20" viewBox="0 0 19 21" preserveAspectRatio="none"><path d="M6.7 10.3 18.3 9.9 0.4 20.4Z" fill="#304352"/><path d="M0.6 0.6 18 9.8 6.9 10.2Z" fill="none" stroke="#304352" stroke-width="1.1" stroke-linejoin="miter"/></svg>
<div class="t" style="left:2104.5px;top:998.7px;font-size:28px;color:#304352;">Spectral invariant GNNs with 1 iteration suffice to subgraph-count all</div>
<div class="t" style="left:2104.5px;top:1032.5px;font-size:28px;color:#304352;">cycles up to 6 vertices.</div>
<div class="t" style="left:2241.4px;top:1127.1px;font-size:40px;color:#4472c4;font-weight:bold;transform:scaleX(0.9981);">Extension: Higher Order Spectral</div>
<div class="t" style="left:2078.7px;top:1211.4px;font-size:28.3px;color:#000;transform:scaleX(1.0080);"><b>Higher Order Spectral GNN:</b> A graph <span class="m">F</span> is said to have a <span style="color:#ed7d31">parallel <span class="m">k</span>-order</span></div>
<div class="t" style="left:2078.7px;top:1245.2px;font-size:28.3px;color:#000;transform:scaleX(0.9970);"><span style="color:#ed7d31">strong nested ear decomposition</span> (NED) if there exists a graph <span class="m">G</span> such that</div>
<div class="t" style="left:2078.7px;top:1278.6px;font-size:28.3px;color:#000;transform:scaleX(1.0084);"><span class="m">G</span> admits a strong NED and <span class="m">F</span> can be obtained from <span class="m">G</span> by replacing each</div>
<div class="t" style="left:2078.7px;top:1312.8px;font-size:28.3px;color:#000;transform:scaleX(1.0148);">edge <span class="mu">{</span><span class="m">u, v</span><span class="mu">} ∈</span> <span class="m">E</span><span class="sb"><span class="m">G</span></span>with a parallel edge that has endpoints <span class="mu">(</span><span class="m">u, v</span><span class="mu">)</span>.</div>
<div class="t" style="left:2078.7px;top:1346.0px;font-size:28.3px;color:#000;transform:scaleX(1.0030);">Then, the homomorphism expressivity of <span style="color:#ed7d31"><span class="m">k</span>-order spectral invariant GNNs</span></div>
<div class="t" style="left:2078.7px;top:1379.5px;font-size:28.3px;color:#000;transform:scaleX(1.0037);">is the set of all graphs that admit a parallel <span class="m">k</span>-order strong NED.</div>
<div class="bx" style="left:2069.8px;top:1453.3px;width:943.2px;height:214.0px;background:#e9e4f1;"></div>
<svg style="left:2074.4px;top:1463.7px" width="17.5" height="20" viewBox="0 0 19 21" preserveAspectRatio="none"><path d="M6.7 10.3 18.3 9.9 0.4 20.4Z" fill="#304352"/><path d="M0.6 0.6 18 9.8 6.9 10.2Z" fill="none" stroke="#304352" stroke-width="1.1" stroke-linejoin="miter"/></svg>
<div class="t" style="left:2109.8px;top:1459.8px;font-size:28px;color:#304352;transform:scaleX(0.9669);"><b>Theorem (Higher Order symmetric Power):</b> Local <span class="mu">2</span><span class="m">k</span>-GNN can encode</div>
<div class="t" style="left:2109.8px;top:1494.1px;font-size:28px;color:#304352;transform:scaleX(1.0174);">the symmetric <span class="m">k</span>-th power. Specifically, for given graphs <span class="m">G</span> and <span class="m">H</span>, if <span class="m">G</span></div>
<div class="t" style="left:2109.8px;top:1529.7px;font-size:28px;color:#304352;transform:scaleX(1.0197);">and <span class="m">H</span> have the same representation under Local <span class="mu">2</span><span class="m">k</span>-GNN, then <span class="m">G</span><span class="su"><span class="mu">{</span><span class="m">k</span><span class="mu">}</span></span></div>
<div class="t" style="left:2109.8px;top:1566.6px;font-size:28px;color:#304352;transform:scaleX(1.0123);">and <span class="m">H</span><span class="su"><span class="mu">{</span><span class="m">k</span><span class="mu">}</span></span> have the same representation under the spectral invariant</div>
<div class="t" style="left:2109.8px;top:1602.1px;font-size:28px;color:#304352;">GNN</div>
<div class="t" style="left:2431.3px;top:1693.1px;font-size:40px;color:#4472c4;font-weight:bold;transform:scaleX(0.9908);">Experiments</div>
<div class="t" style="left:2072.0px;top:1767.3px;font-size:28px;color:#304352;transform:scaleX(0.9986);">We conduct experiments including testing whether these GNN models can</div>
<div class="t" style="left:2072.0px;top:1800.8px;font-size:28px;color:#304352;">learn homomorphism information, testing the ability of different GNN models</div>
<div class="t" style="left:2072.0px;top:1834.3px;font-size:28px;color:#304352;">to subgraph-count cycles, and testing these GNN models on real-world</div>
<div class="t" style="left:2072.0px;top:1867.8px;font-size:28px;color:#304352;">benchmarks.</div>
<div class="t" style="left:2070.2px;top:1929.8px;font-size:24.2px;color:#111;font-family:'Liberation Serif','DejaVu Serif',serif;transform:scaleX(1.0015);">Table 1: Experimental results on homomorphism counting, real-world tasks and substructure count.</div>
<svg style="left:0;top:0" width="3061" height="2154" viewBox="0 0 3061 2154"><polyline points="1102.6,1177.9 1142.4,1143.5 1190.9,1123.0 1245.2,1109.9 1299.8,1123.0 1345.1,1143.5 1384.4,1175.2" fill="none" stroke="#000" stroke-width="1.4"/>
<polyline points="1102.6,1177.9 1178.1,1157.4 1244.0,1146.8 1307.1,1153.8 1384.4,1175.2" fill="none" stroke="#000" stroke-width="1.4"/>
<polyline points="1102.6,1177.9 1178.1,1199.5 1244.0,1206.6 1310.2,1195.9 1384.4,1175.2" fill="none" stroke="#000" stroke-width="1.4"/>
<polyline points="1102.6,1177.9 1141.9,1209.6 1189.6,1230.1 1244.3,1243.2 1298.5,1230.1 1344.2,1209.6 1384.4,1175.2" fill="none" stroke="#000" stroke-width="1.4"/>
<circle cx="1142.4" cy="1143.5" r="10.6" fill="#4ba8e8" stroke="#000" stroke-width="1.1"/>
<circle cx="1190.9" cy="1123.0" r="10.6" fill="#4ba8e8" stroke="#000" stroke-width="1.1"/>
<circle cx="1245.2" cy="1109.9" r="10.6" fill="#4ba8e8" stroke="#000" stroke-width="1.1"/>
<circle cx="1299.8" cy="1123.0" r="10.6" fill="#4ba8e8" stroke="#000" stroke-width="1.1"/>
<circle cx="1345.1" cy="1143.5" r="10.6" fill="#4ba8e8" stroke="#000" stroke-width="1.1"/>
<circle cx="1178.1" cy="1157.4" r="10.6" fill="#4ba8e8" stroke="#000" stroke-width="1.1"/>
<circle cx="1244.0" cy="1146.8" r="10.6" fill="#4ba8e8" stroke="#000" stroke-width="1.1"/>
<circle cx="1307.1" cy="1153.8" r="10.6" fill="#4ba8e8" stroke="#000" stroke-width="1.1"/>
<circle cx="1178.1" cy="1199.5" r="10.6" fill="#4ba8e8" stroke="#000" stroke-width="1.1"/>
<circle cx="1244.0" cy="1206.6" r="10.6" fill="#4ba8e8" stroke="#000" stroke-width="1.1"/>
<circle cx="1310.2" cy="1195.9" r="10.6" fill="#4ba8e8" stroke="#000" stroke-width="1.1"/>
<circle cx="1141.9" cy="1209.6" r="10.6" fill="#4ba8e8" stroke="#000" stroke-width="1.1"/>
<circle cx="1189.6" cy="1230.1" r="10.6" fill="#4ba8e8" stroke="#000" stroke-width="1.1"/>
<circle cx="1244.3" cy="1243.2" r="10.6" fill="#4ba8e8" stroke="#000" stroke-width="1.1"/>
<circle cx="1298.5" cy="1230.1" r="10.6" fill="#4ba8e8" stroke="#000" stroke-width="1.1"/>
<circle cx="1344.2" cy="1209.6" r="10.6" fill="#4ba8e8" stroke="#000" stroke-width="1.1"/>
<circle cx="1102.6" cy="1177.9" r="10.8" fill="#92cc55" stroke="#000" stroke-width="1.1"/>
<circle cx="1384.4" cy="1175.2" r="10.8" fill="#92cc55" stroke="#000" stroke-width="1.1"/>
<text x="1102.6" y="1182.4" font-size="15" text-anchor="middle" fill="#000" font-style="italic" style="font-family:'Liberation Serif',serif">u</text>
<text x="1384.4" y="1179.7" font-size="15" text-anchor="middle" fill="#000" font-style="italic" style="font-family:'Liberation Serif',serif">v</text>
<polyline points="1612.4,1100.1 1579.1,1107.8 1549.5,1134.0 1535.6,1164.0" fill="none" stroke="#333" stroke-width="0.9"/>
<polyline points="1612.4,1100.1 1580.3,1126.6 1565.5,1139.3 1535.6,1164.0" fill="none" stroke="#333" stroke-width="0.9"/>
<polyline points="1612.4,1100.1 1597.8,1132.6 1568.5,1157.4 1535.6,1164.0" fill="none" stroke="#333" stroke-width="0.9"/>
<polyline points="1612.4,1100.1 1645.0,1108.1 1674.8,1134.4 1687.7,1165.5" fill="none" stroke="#333" stroke-width="0.9"/>
<polyline points="1612.4,1100.1 1643.7,1127.0 1658.8,1139.6 1687.7,1165.5" fill="none" stroke="#333" stroke-width="0.9"/>
<polyline points="1612.4,1100.1 1626.2,1132.9 1655.4,1157.4 1687.7,1165.5" fill="none" stroke="#333" stroke-width="0.9"/>
<polyline points="1535.6,1164.0 1506.0,1176.6 1481.8,1208.2 1474.0,1240.7" fill="none" stroke="#333" stroke-width="0.9"/>
<polyline points="1535.6,1164.0 1511.0,1195.1 1498.6,1209.9 1474.0,1240.7" fill="none" stroke="#333" stroke-width="0.9"/>
<polyline points="1535.6,1164.0 1529.2,1197.1 1505.2,1227.0 1474.0,1240.7" fill="none" stroke="#333" stroke-width="0.9"/>
<polyline points="1535.6,1164.0 1566.2,1176.9 1590.2,1208.8 1597.0,1241.8" fill="none" stroke="#333" stroke-width="0.9"/>
<polyline points="1535.6,1164.0 1561.4,1195.4 1573.7,1210.7 1597.0,1241.8" fill="none" stroke="#333" stroke-width="0.9"/>
<polyline points="1535.6,1164.0 1543.0,1197.6 1567.3,1227.4 1597.0,1241.8" fill="none" stroke="#333" stroke-width="0.9"/>
<polyline points="1687.7,1165.5 1657.0,1178.4 1632.9,1209.9 1625.0,1242.5" fill="none" stroke="#333" stroke-width="0.9"/>
<polyline points="1687.7,1165.5 1662.1,1196.6 1649.6,1211.9 1625.0,1242.5" fill="none" stroke="#333" stroke-width="0.9"/>
<polyline points="1687.7,1165.5 1680.0,1199.1 1656.1,1228.9 1625.0,1242.5" fill="none" stroke="#333" stroke-width="0.9"/>
<polyline points="1687.7,1165.5 1717.3,1179.1 1741.4,1210.4 1747.9,1243.0" fill="none" stroke="#333" stroke-width="0.9"/>
<polyline points="1687.7,1165.5 1712.4,1197.1 1724.7,1212.6 1747.9,1243.0" fill="none" stroke="#333" stroke-width="0.9"/>
<polyline points="1687.7,1165.5 1694.3,1199.6 1718.0,1229.5 1747.9,1243.0" fill="none" stroke="#333" stroke-width="0.9"/>
<circle cx="1579.1" cy="1107.8" r="5.5" fill="#4ba8e8" stroke="#1b4f7a" stroke-width="0.7"/>
<circle cx="1549.5" cy="1134.0" r="5.5" fill="#4ba8e8" stroke="#1b4f7a" stroke-width="0.7"/>
<circle cx="1580.3" cy="1126.6" r="5.5" fill="#4ba8e8" stroke="#1b4f7a" stroke-width="0.7"/>
<circle cx="1565.5" cy="1139.3" r="5.5" fill="#4ba8e8" stroke="#1b4f7a" stroke-width="0.7"/>
<circle cx="1597.8" cy="1132.6" r="5.5" fill="#4ba8e8" stroke="#1b4f7a" stroke-width="0.7"/>
<circle cx="1568.5" cy="1157.4" r="5.5" fill="#4ba8e8" stroke="#1b4f7a" stroke-width="0.7"/>
<circle cx="1645.0" cy="1108.1" r="5.5" fill="#4ba8e8" stroke="#1b4f7a" stroke-width="0.7"/>
<circle cx="1674.8" cy="1134.4" r="5.5" fill="#4ba8e8" stroke="#1b4f7a" stroke-width="0.7"/>
<circle cx="1643.7" cy="1127.0" r="5.5" fill="#4ba8e8" stroke="#1b4f7a" stroke-width="0.7"/>
<circle cx="1658.8" cy="1139.6" r="5.5" fill="#4ba8e8" stroke="#1b4f7a" stroke-width="0.7"/>
<circle cx="1626.2" cy="1132.9" r="5.5" fill="#4ba8e8" stroke="#1b4f7a" stroke-width="0.7"/>
<circle cx="1655.4" cy="1157.4" r="5.5" fill="#4ba8e8" stroke="#1b4f7a" stroke-width="0.7"/>
<circle cx="1506.0" cy="1176.6" r="5.5" fill="#4ba8e8" stroke="#1b4f7a" stroke-width="0.7"/>
<circle cx="1481.8" cy="1208.2" r="5.5" fill="#4ba8e8" stroke="#1b4f7a" stroke-width="0.7"/>
<circle cx="1511.0" cy="1195.1" r="5.5" fill="#4ba8e8" stroke="#1b4f7a" stroke-width="0.7"/>
<circle cx="1498.6" cy="1209.9" r="5.5" fill="#4ba8e8" stroke="#1b4f7a" stroke-width="0.7"/>
<circle cx="1529.2" cy="1197.1" r="5.5" fill="#4ba8e8" stroke="#1b4f7a" stroke-width="0.7"/>
<circle cx="1505.2" cy="1227.0" r="5.5" fill="#4ba8e8" stroke="#1b4f7a" stroke-width="0.7"/>
<circle cx="1566.2" cy="1176.9" r="5.5" fill="#4ba8e8" stroke="#1b4f7a" stroke-width="0.7"/>
<circle cx="1590.2" cy="1208.8" r="5.5" fill="#4ba8e8" stroke="#1b4f7a" stroke-width="0.7"/>
<circle cx="1561.4" cy="1195.4" r="5.5" fill="#4ba8e8" stroke="#1b4f7a" stroke-width="0.7"/>
<circle cx="1573.7" cy="1210.7" r="5.5" fill="#4ba8e8" stroke="#1b4f7a" stroke-width="0.7"/>
<circle cx="1543.0" cy="1197.6" r="5.5" fill="#4ba8e8" stroke="#1b4f7a" stroke-width="0.7"/>
<circle cx="1567.3" cy="1227.4" r="5.5" fill="#4ba8e8" stroke="#1b4f7a" stroke-width="0.7"/>
<circle cx="1657.0" cy="1178.4" r="5.5" fill="#4ba8e8" stroke="#1b4f7a" stroke-width="0.7"/>
<circle cx="1632.9" cy="1209.9" r="5.5" fill="#4ba8e8" stroke="#1b4f7a" stroke-width="0.7"/>
<circle cx="1662.1" cy="1196.6" r="5.5" fill="#4ba8e8" stroke="#1b4f7a" stroke-width="0.7"/>
<circle cx="1649.6" cy="1211.9" r="5.5" fill="#4ba8e8" stroke="#1b4f7a" stroke-width="0.7"/>
<circle cx="1680.0" cy="1199.1" r="5.5" fill="#4ba8e8" stroke="#1b4f7a" stroke-width="0.7"/>
<circle cx="1656.1" cy="1228.9" r="5.5" fill="#4ba8e8" stroke="#1b4f7a" stroke-width="0.7"/>
<circle cx="1717.3" cy="1179.1" r="5.5" fill="#4ba8e8" stroke="#1b4f7a" stroke-width="0.7"/>
<circle cx="1741.4" cy="1210.4" r="5.5" fill="#4ba8e8" stroke="#1b4f7a" stroke-width="0.7"/>
<circle cx="1712.4" cy="1197.1" r="5.5" fill="#4ba8e8" stroke="#1b4f7a" stroke-width="0.7"/>
<circle cx="1724.7" cy="1212.6" r="5.5" fill="#4ba8e8" stroke="#1b4f7a" stroke-width="0.7"/>
<circle cx="1694.3" cy="1199.6" r="5.5" fill="#4ba8e8" stroke="#1b4f7a" stroke-width="0.7"/>
<circle cx="1718.0" cy="1229.5" r="5.5" fill="#4ba8e8" stroke="#1b4f7a" stroke-width="0.7"/>
<circle cx="1612.4" cy="1100.1" r="5.7" fill="#92cc55" stroke="#4a7a2a" stroke-width="0.7"/>
<circle cx="1535.6" cy="1164.0" r="5.7" fill="#92cc55" stroke="#4a7a2a" stroke-width="0.7"/>
<circle cx="1687.7" cy="1165.5" r="5.7" fill="#92cc55" stroke="#4a7a2a" stroke-width="0.7"/>
<circle cx="1474.0" cy="1240.7" r="5.7" fill="#92cc55" stroke="#4a7a2a" stroke-width="0.7"/>
<circle cx="1597.0" cy="1241.8" r="5.7" fill="#92cc55" stroke="#4a7a2a" stroke-width="0.7"/>
<circle cx="1625.0" cy="1242.5" r="5.7" fill="#92cc55" stroke="#4a7a2a" stroke-width="0.7"/>
<circle cx="1747.9" cy="1243.0" r="5.7" fill="#92cc55" stroke="#4a7a2a" stroke-width="0.7"/>
<line x1="1926.0" y1="1103.9" x2="1876.4" y2="1160.7" stroke="#4aa5e6" stroke-width="1.7"/>
<line x1="1926.0" y1="1103.9" x2="1976.1" y2="1160.7" stroke="#4aa5e6" stroke-width="1.7"/>
<line x1="1876.4" y1="1160.7" x2="1847.4" y2="1241.2" stroke="#4aa5e6" stroke-width="1.7"/>
<line x1="1876.4" y1="1160.7" x2="1903.9" y2="1241.2" stroke="#4aa5e6" stroke-width="1.7"/>
<line x1="1976.1" y1="1160.7" x2="1949.0" y2="1241.2" stroke="#4aa5e6" stroke-width="1.7"/>
<line x1="1976.1" y1="1160.7" x2="2004.0" y2="1241.2" stroke="#4aa5e6" stroke-width="1.7"/>
<circle cx="1926.0" cy="1103.9" r="11.3" fill="#9acd5a" stroke="#000" stroke-width="1.3"/>
<circle cx="1876.4" cy="1160.7" r="11.3" fill="#9acd5a" stroke="#000" stroke-width="1.3"/>
<circle cx="1976.1" cy="1160.7" r="11.3" fill="#9acd5a" stroke="#000" stroke-width="1.3"/>
<circle cx="1847.4" cy="1241.2" r="11.3" fill="#9acd5a" stroke="#000" stroke-width="1.3"/>
<circle cx="1903.9" cy="1241.2" r="11.3" fill="#9acd5a" stroke="#000" stroke-width="1.3"/>
<circle cx="1949.0" cy="1241.2" r="11.3" fill="#9acd5a" stroke="#000" stroke-width="1.3"/>
<circle cx="2004.0" cy="1241.2" r="11.3" fill="#9acd5a" stroke="#000" stroke-width="1.3"/>
<line x1="1159.9" y1="1940.9" x2="1123.5" y2="2002.2" stroke="#000" stroke-width="1.2"/>
<line x1="1159.9" y1="1940.9" x2="1194.6" y2="2002.2" stroke="#000" stroke-width="1.2"/>
<line x1="1123.5" y1="2002.2" x2="1194.6" y2="2002.2" stroke="#000" stroke-width="1.2"/>
<line x1="1123.5" y1="2002.2" x2="1087.5" y2="2063.5" stroke="#000" stroke-width="1.2"/>
<line x1="1123.5" y1="2002.2" x2="1159.9" y2="2063.5" stroke="#000" stroke-width="1.2"/>
<line x1="1194.6" y1="2002.2" x2="1159.9" y2="2063.5" stroke="#000" stroke-width="1.2"/>
<line x1="1194.6" y1="2002.2" x2="1230.6" y2="2063.5" stroke="#000" stroke-width="1.2"/>
<line x1="1087.5" y1="2063.5" x2="1159.9" y2="2063.5" stroke="#000" stroke-width="1.2"/>
<line x1="1159.9" y1="2063.5" x2="1230.6" y2="2063.5" stroke="#000" stroke-width="1.2"/>
<circle cx="1159.9" cy="1940.9" r="12.8" fill="#a8c4e6" stroke="#000" stroke-width="1.2"/>
<text x="1159.9" y="1947.4" font-size="19" text-anchor="middle" fill="#000" style="font-family:'Liberation Serif',serif">1</text>
<circle cx="1123.5" cy="2002.2" r="12.8" fill="#a8c4e6" stroke="#000" stroke-width="1.2"/>
<text x="1123.5" y="2008.7" font-size="19" text-anchor="middle" fill="#000" style="font-family:'Liberation Serif',serif">2</text>
<circle cx="1194.6" cy="2002.2" r="12.8" fill="#a8c4e6" stroke="#000" stroke-width="1.2"/>
<text x="1194.6" y="2008.7" font-size="19" text-anchor="middle" fill="#000" style="font-family:'Liberation Serif',serif">3</text>
<circle cx="1087.5" cy="2063.5" r="12.8" fill="#a8c4e6" stroke="#000" stroke-width="1.2"/>
<text x="1087.5" y="2070.0" font-size="19" text-anchor="middle" fill="#000" style="font-family:'Liberation Serif',serif">4</text>
<circle cx="1159.9" cy="2063.5" r="12.8" fill="#a8c4e6" stroke="#000" stroke-width="1.2"/>
<text x="1159.9" y="2070.0" font-size="19" text-anchor="middle" fill="#000" style="font-family:'Liberation Serif',serif">5</text>
<circle cx="1230.6" cy="2063.5" r="12.8" fill="#a8c4e6" stroke="#000" stroke-width="1.2"/>
<text x="1230.6" y="2070.0" font-size="19" text-anchor="middle" fill="#000" style="font-family:'Liberation Serif',serif">6</text>
<line x1="1320.8" y1="1998.6" x2="1366.5" y2="1951.1" stroke="#000" stroke-width="1.2"/>
<line x1="1366.5" y1="1951.1" x2="1410.9" y2="1998.6" stroke="#000" stroke-width="1.2"/>
<line x1="1320.8" y1="1998.6" x2="1366.5" y2="2045.7" stroke="#000" stroke-width="1.2"/>
<line x1="1366.5" y1="2045.7" x2="1410.9" y2="1998.6" stroke="#000" stroke-width="1.2"/>
<line x1="1410.9" y1="1998.6" x2="1456.3" y2="1951.1" stroke="#000" stroke-width="1.2"/>
<line x1="1456.3" y1="1951.1" x2="1501.1" y2="1998.6" stroke="#000" stroke-width="1.2"/>
<line x1="1410.9" y1="1998.6" x2="1456.3" y2="2045.7" stroke="#000" stroke-width="1.2"/>
<line x1="1456.3" y1="2045.7" x2="1501.1" y2="1998.6" stroke="#000" stroke-width="1.2"/>
<line x1="1501.1" y1="1998.6" x2="1546.4" y2="1951.1" stroke="#000" stroke-width="1.2"/>
<line x1="1546.4" y1="1951.1" x2="1590.9" y2="1998.6" stroke="#000" stroke-width="1.2"/>
<line x1="1501.1" y1="1998.6" x2="1546.4" y2="2045.7" stroke="#000" stroke-width="1.2"/>
<line x1="1546.4" y1="2045.7" x2="1590.9" y2="1998.6" stroke="#000" stroke-width="1.2"/>
<ellipse cx="1366.5" cy="1951.1" rx="9" ry="8" fill="#4ba8e8" stroke="#000" stroke-width="1"/>
<ellipse cx="1366.5" cy="2045.7" rx="9" ry="8" fill="#4ba8e8" stroke="#000" stroke-width="1"/>
<ellipse cx="1456.3" cy="1951.1" rx="9" ry="8" fill="#4ba8e8" stroke="#000" stroke-width="1"/>
<ellipse cx="1456.3" cy="2045.7" rx="9" ry="8" fill="#4ba8e8" stroke="#000" stroke-width="1"/>
<ellipse cx="1546.4" cy="1951.1" rx="9" ry="8" fill="#4ba8e8" stroke="#000" stroke-width="1"/>
<ellipse cx="1546.4" cy="2045.7" rx="9" ry="8" fill="#4ba8e8" stroke="#000" stroke-width="1"/>
<ellipse cx="1320.8" cy="1998.6" rx="9" ry="8" fill="#4ba8e8" stroke="#000" stroke-width="1"/>
<ellipse cx="1410.9" cy="1998.6" rx="9" ry="8" fill="#4ba8e8" stroke="#000" stroke-width="1"/>
<ellipse cx="1501.1" cy="1998.6" rx="9" ry="8" fill="#4ba8e8" stroke="#000" stroke-width="1"/>
<ellipse cx="1590.9" cy="1998.6" rx="9" ry="8" fill="#4ba8e8" stroke="#000" stroke-width="1"/>
<line x1="1650.8" y1="1997.3" x2="1697.5" y2="1947.5" stroke="#000" stroke-width="1.2"/>
<line x1="1697.5" y1="1947.5" x2="1744.1" y2="1997.3" stroke="#000" stroke-width="1.2"/>
<line x1="1650.8" y1="1997.3" x2="1697.5" y2="2046.6" stroke="#000" stroke-width="1.2"/>
<line x1="1697.5" y1="2046.6" x2="1744.1" y2="1997.3" stroke="#000" stroke-width="1.2"/>
<line x1="1744.1" y1="1997.3" x2="1790.8" y2="1947.5" stroke="#000" stroke-width="1.2"/>
<line x1="1790.8" y1="1947.5" x2="1838.3" y2="1997.3" stroke="#000" stroke-width="1.2"/>
<line x1="1744.1" y1="1997.3" x2="1790.8" y2="2046.6" stroke="#000" stroke-width="1.2"/>
<line x1="1790.8" y1="2046.6" x2="1838.3" y2="1997.3" stroke="#000" stroke-width="1.2"/>
<line x1="1891.6" y1="1997.3" x2="1938.7" y2="1947.5" stroke="#000" stroke-width="1.2"/>
<line x1="1938.7" y1="1947.5" x2="1985.3" y2="1997.3" stroke="#000" stroke-width="1.2"/>
<line x1="1891.6" y1="1997.3" x2="1938.7" y2="2046.6" stroke="#000" stroke-width="1.2"/>
<line x1="1938.7" y1="2046.6" x2="1985.3" y2="1997.3" stroke="#000" stroke-width="1.2"/>
<ellipse cx="1697.5" cy="1947.5" rx="9.3" ry="8.2" fill="#4ba8e8" stroke="#000" stroke-width="1"/>
<ellipse cx="1697.5" cy="2046.6" rx="9.3" ry="8.2" fill="#4ba8e8" stroke="#000" stroke-width="1"/>
<ellipse cx="1790.8" cy="1947.5" rx="9.3" ry="8.2" fill="#4ba8e8" stroke="#000" stroke-width="1"/>
<ellipse cx="1790.8" cy="2046.6" rx="9.3" ry="8.2" fill="#4ba8e8" stroke="#000" stroke-width="1"/>
<ellipse cx="1938.7" cy="1947.5" rx="9.3" ry="8.2" fill="#4ba8e8" stroke="#000" stroke-width="1"/>
<ellipse cx="1938.7" cy="2046.6" rx="9.3" ry="8.2" fill="#4ba8e8" stroke="#000" stroke-width="1"/>
<ellipse cx="1650.8" cy="1997.3" rx="9.3" ry="8.2" fill="#6b2fa0" stroke="#000" stroke-width="1"/>
<ellipse cx="1744.1" cy="1997.3" rx="9.3" ry="8.2" fill="#6b2fa0" stroke="#000" stroke-width="1"/>
<ellipse cx="1838.3" cy="1997.3" rx="9.3" ry="8.2" fill="#6b2fa0" stroke="#000" stroke-width="1"/>
<ellipse cx="1891.6" cy="1997.3" rx="9.3" ry="8.2" fill="#6b2fa0" stroke="#000" stroke-width="1"/>
<ellipse cx="1985.3" cy="1997.3" rx="9.3" ry="8.2" fill="#6b2fa0" stroke="#000" stroke-width="1"/>
<text x="1693.0" y="2000.8" font-size="11" text-anchor="middle" fill="#333" style="font-family:'DejaVu Serif',serif">1</text>
<text x="1790.8" y="1999.5" font-size="11" text-anchor="middle" fill="#333" style="font-family:'DejaVu Serif',serif">2</text>
<text x="1938.3" y="2000.8" font-size="11" text-anchor="middle" fill="#333" style="font-family:'DejaVu Serif',serif">2<tspan font-style="italic">k</tspan> + 1</text>
<text x="1863.2" y="2000.7" font-size="13" text-anchor="middle" fill="#222" font-weight="bold">...</text>
<defs><marker id="ah" viewBox="0 0 10 10" refX="9" refY="5" markerWidth="10" markerHeight="10" orient="auto" markerUnits="userSpaceOnUse"><path d="M1 0.8 L9 5 L1 9.2" fill="none" stroke="#000" stroke-width="1.7"/></marker></defs>
<line x1="2166.4" y1="511.1" x2="2288.9" y2="389.1" stroke="#000" stroke-width="1.9" marker-end="url(#ah)"/>
<line x1="2320.7" y1="511.1" x2="2320.7" y2="388.3" stroke="#000" stroke-width="1.9" marker-end="url(#ah)"/>
<line x1="2349.9" y1="387.0" x2="2482.4" y2="511.1" stroke="#000" stroke-width="1.9"/>
<line x1="2369.6" y1="358.3" x2="2723.5" y2="358.3" stroke="#000" stroke-width="1.9" marker-end="url(#ah)"/>
<line x1="2187.3" y1="540.6" x2="2271.3" y2="540.6" stroke="#000" stroke-width="1.9" marker-end="url(#ah)"/>
<line x1="2369.6" y1="540.6" x2="2465.0" y2="540.6" stroke="#000" stroke-width="1.9" marker-end="url(#ah)"/>
<line x1="2563.2" y1="540.6" x2="2612.0" y2="540.6" stroke="#000" stroke-width="1.9" marker-end="url(#ah)"/>
<line x1="2656.0" y1="540.6" x2="2723.4" y2="540.6" stroke="#000" stroke-width="1.9" marker-end="url(#ah)"/>
<line x1="2772.4" y1="511.1" x2="2772.4" y2="390.5" stroke="#000" stroke-width="1.9" marker-end="url(#ah)"/>
<line x1="2800.4" y1="511.1" x2="2929.2" y2="385.0" stroke="#000" stroke-width="1.9" marker-end="url(#ah)"/>
<line x1="2821.3" y1="359.6" x2="2908.0" y2="359.6" stroke="#000" stroke-width="1.9" marker-end="url(#ah)"/>
<circle cx="2623.9" cy="540.8" r="2.1" fill="#000"/>
<circle cx="2633.7" cy="540.8" r="2.1" fill="#000"/>
<circle cx="2643.5" cy="540.8" r="2.1" fill="#000"/>
<rect x="2271.8" y="329.7" width="97.8" height="57.3" rx="9" fill="#a3d160" stroke="#6c8ebf" stroke-width="0.9"/>
<text x="2322.0" y="355.3" font-size="16.8" text-anchor="middle" fill="#111" >Subgraph</text>
<text x="2322.0" y="375.7" font-size="16.8" text-anchor="middle" fill="#111" >GNN</text>
<rect x="2724.0" y="329.7" width="97.3" height="57.3" rx="9" fill="#4cad57" stroke="#6c8ebf" stroke-width="0.9"/>
<text x="2772.7" y="352.5" font-size="16.8" text-anchor="middle" fill="#111" >Local</text>
<text x="2772.7" y="372.5" font-size="16.8" text-anchor="middle" fill="#111" >2- GNN</text>
<rect x="2908.5" y="329.7" width="97.5" height="57.3" rx="9" fill="#4aa6ec" stroke="#6c8ebf" stroke-width="0.9"/>
<text x="2959.6" y="364.5" font-size="16.8" text-anchor="middle" fill="#111" >2-FWL</text>
<rect x="2089.4" y="511.0" width="97.9" height="57.6" rx="9" fill="#b999da" stroke="#6c8ebf" stroke-width="0.9"/>
<text x="2138.4" y="542.1" font-size="16.8" text-anchor="middle" fill="#111" >Eigenvalue</text>
<rect x="2271.8" y="511.0" width="97.8" height="57.6" rx="9" fill="#97ddd7" stroke="#6c8ebf" stroke-width="0.9"/>
<text x="2322.1" y="534.7" font-size="16.3" text-anchor="middle" fill="#111" >Spectral IGN</text>
<text x="2317.2" y="553.0" font-size="16.3" text-anchor="middle" fill="#111" >1 iteration</text>
<rect x="2465.4" y="511.0" width="97.8" height="57.6" rx="9" fill="#97ddd7" stroke="#6c8ebf" stroke-width="0.9"/>
<text x="2515.9" y="534.7" font-size="16.3" text-anchor="middle" fill="#111" >Spectral IGN</text>
<text x="2510.2" y="553.0" font-size="16.3" text-anchor="middle" fill="#111" >2 iteration</text>
<rect x="2724.0" y="511.0" width="97.3" height="57.6" rx="9" fill="#97ddd7" stroke="#6c8ebf" stroke-width="0.9"/>
<text x="2774.0" y="537.0" font-size="16.3" text-anchor="middle" fill="#111" >Spectral IGN</text>
<text x="2772.0" y="554.4" font-size="16.3" text-anchor="middle" fill="#111" >∞ iteration</text>
<text x="2559.4" y="384.5" font-size="17.5" text-anchor="middle" fill="#111" >strict</text>
<text x="2866.2" y="384.5" font-size="17.5" text-anchor="middle" fill="#111" >strict</text>
<text x="2220.0" y="434.6" font-size="17.5" text-anchor="middle" fill="#111" >strict</text>
<text x="2352.0" y="462.9" font-size="17.5" text-anchor="middle" fill="#111" >strict</text>
<text x="2493.0" y="443.6" font-size="17.5" text-anchor="middle" fill="#111" >incomparable</text>
<text x="2748.4" y="462.8" font-size="17.5" text-anchor="middle" fill="#111" >strict</text>
<text x="2877.8" y="470.8" font-size="17.5" text-anchor="middle" fill="#111" >strict</text>
<text x="2228.3" y="526.7" font-size="17.5" text-anchor="middle" fill="#111" >strict</text>
<text x="2415.8" y="519.5" font-size="17.5" text-anchor="middle" fill="#111" >strict</text>
<text x="2643.9" y="520.1" font-size="17.5" text-anchor="middle" fill="#111" >strict</text>
<rect x="2271.7" y="2018.0" width="248.3" height="21.5" fill="#f8c9cb"/>
<rect x="2271.7" y="2039.5" width="99.7" height="21.8" fill="#cbe6f7"/>
<rect x="2371.4" y="2039.5" width="98.5" height="21.8" fill="#fde3c3"/>
<rect x="2469.9" y="2039.5" width="50.1" height="21.8" fill="#f8c9cb"/>
<rect x="2271.7" y="2061.3" width="198.2" height="43.5" fill="#cbe6f7"/>
<rect x="2469.9" y="2061.3" width="50.1" height="43.5" fill="#f8c9cb"/>
<rect x="2732.5" y="2018.0" width="297.5" height="21.5" fill="#f8c9cb"/>
<rect x="2732.5" y="2039.5" width="247.8" height="21.8" fill="#c9f4c0"/>
<rect x="2980.3" y="2039.5" width="49.7" height="21.8" fill="#fde3c3"/>
<rect x="2732.5" y="2061.3" width="297.5" height="43.5" fill="#cbe6f7"/>
<line x1="2075.2" y1="1958.4" x2="3030.0" y2="1958.4" stroke="#000" stroke-width="1.7"/>
<line x1="2075.2" y1="2017.6" x2="3030.0" y2="2017.6" stroke="#000" stroke-width="1.1"/>
<line x1="2075.2" y1="2105.4" x2="3030.0" y2="2105.4" stroke="#000" stroke-width="1.7"/>
<line x1="2271.2" y1="1958.4" x2="2271.2" y2="2105.4" stroke="#222" stroke-width="0.9"/>
<line x1="2520.1" y1="1958.4" x2="2520.1" y2="2105.4" stroke="#222" stroke-width="0.9"/>
<line x1="2732.1" y1="1958.4" x2="2732.1" y2="2105.4" stroke="#222" stroke-width="0.9"/>
<line x1="2112.3" y1="1959.4" x2="2233.1" y2="2003.4" stroke="#222" stroke-width="0.8"/>
<text x="2211.4" y="1975.3" font-size="19.6" text-anchor="middle" fill="#111" style="font-family:'Liberation Serif',serif" textLength="35.0" lengthAdjust="spacingAndGlyphs">Task</text>
<text x="2142.5" y="1997.0" font-size="19.6" text-anchor="middle" fill="#111" style="font-family:'Liberation Serif',serif" textLength="50.5" lengthAdjust="spacingAndGlyphs">Model</text>
<text x="2395.8" y="1975.3" font-size="19.6" text-anchor="middle" fill="#111" style="font-family:'Liberation Serif',serif" textLength="180.7" lengthAdjust="spacingAndGlyphs">Homomorphism Count</text>
<text x="2625.7" y="1975.3" font-size="19.6" text-anchor="middle" fill="#111" style="font-family:'Liberation Serif',serif" textLength="45.0" lengthAdjust="spacingAndGlyphs">ZINC</text>
<text x="2881.0" y="1975.3" font-size="19.6" text-anchor="middle" fill="#111" style="font-family:'Liberation Serif',serif" textLength="152.0" lengthAdjust="spacingAndGlyphs">Substructure Count</text>
<text x="2573.2" y="2003.4" font-size="19.6" text-anchor="middle" fill="#111" style="font-family:'Liberation Serif',serif" textLength="51.2" lengthAdjust="spacingAndGlyphs">Subset</text>
<text x="2678.7" y="2003.4" font-size="19.6" text-anchor="middle" fill="#111" style="font-family:'Liberation Serif',serif" textLength="30.5" lengthAdjust="spacingAndGlyphs">Full</text>
<text x="2172.6" y="2033.4" font-size="19.6" text-anchor="middle" fill="#111" style="font-family:'Liberation Serif',serif" textLength="56.0" lengthAdjust="spacingAndGlyphs">MPNN</text>
<text x="2296.5" y="2033.4" font-size="19.6" text-anchor="middle" fill="#111" style="font-family:'Liberation Serif',serif" textLength="34.4" lengthAdjust="spacingAndGlyphs">.300</text>
<text x="2346.0" y="2033.4" font-size="19.6" text-anchor="middle" fill="#111" style="font-family:'Liberation Serif',serif" textLength="34.4" lengthAdjust="spacingAndGlyphs">.261</text>
<text x="2395.6" y="2033.4" font-size="19.6" text-anchor="middle" fill="#111" style="font-family:'Liberation Serif',serif" textLength="34.4" lengthAdjust="spacingAndGlyphs">.276</text>
<text x="2445.2" y="2033.4" font-size="19.6" text-anchor="middle" fill="#111" style="font-family:'Liberation Serif',serif" textLength="34.4" lengthAdjust="spacingAndGlyphs">.233</text>
<text x="2494.7" y="2033.4" font-size="19.6" text-anchor="middle" fill="#111" style="font-family:'Liberation Serif',serif" textLength="34.4" lengthAdjust="spacingAndGlyphs">.341</text>
<text x="2573.3" y="2033.4" font-size="19.6" text-anchor="middle" fill="#111" style="font-family:'Liberation Serif',serif" textLength="94.6" lengthAdjust="spacingAndGlyphs">.138 ± .006</text>
<text x="2678.8" y="2033.4" font-size="19.6" text-anchor="middle" fill="#111" style="font-family:'Liberation Serif',serif" textLength="94.6" lengthAdjust="spacingAndGlyphs">.030 ± .002</text>
<text x="2759.6" y="2033.4" font-size="19.6" text-anchor="middle" fill="#111" style="font-family:'Liberation Serif',serif" textLength="34.4" lengthAdjust="spacingAndGlyphs">.358</text>
<text x="2809.5" y="2033.4" font-size="19.6" text-anchor="middle" fill="#111" style="font-family:'Liberation Serif',serif" textLength="34.4" lengthAdjust="spacingAndGlyphs">.208</text>
<text x="2858.8" y="2033.4" font-size="19.6" text-anchor="middle" fill="#111" style="font-family:'Liberation Serif',serif" textLength="34.4" lengthAdjust="spacingAndGlyphs">.188</text>
<text x="2908.8" y="2033.4" font-size="19.6" text-anchor="middle" fill="#111" style="font-family:'Liberation Serif',serif" textLength="34.4" lengthAdjust="spacingAndGlyphs">.146</text>
<text x="2958.2" y="2033.4" font-size="19.6" text-anchor="middle" fill="#111" style="font-family:'Liberation Serif',serif" textLength="34.4" lengthAdjust="spacingAndGlyphs">.261</text>
<text x="3008.0" y="2033.4" font-size="19.6" text-anchor="middle" fill="#111" style="font-family:'Liberation Serif',serif" textLength="34.4" lengthAdjust="spacingAndGlyphs">.205</text>
<text x="2172.6" y="2055.2" font-size="19.6" text-anchor="middle" fill="#111" style="font-family:'Liberation Serif',serif" textLength="185.0" lengthAdjust="spacingAndGlyphs">Spectral Invariant GNN</text>
<text x="2296.5" y="2055.2" font-size="19.6" text-anchor="middle" fill="#111" style="font-family:'Liberation Serif',serif" textLength="34.4" lengthAdjust="spacingAndGlyphs">.045</text>
<text x="2346.0" y="2055.2" font-size="19.6" text-anchor="middle" fill="#111" style="font-family:'Liberation Serif',serif" textLength="34.4" lengthAdjust="spacingAndGlyphs">.046</text>
<text x="2395.6" y="2055.2" font-size="19.6" text-anchor="middle" fill="#111" style="font-family:'Liberation Serif',serif" textLength="34.4" lengthAdjust="spacingAndGlyphs">.053</text>
<text x="2445.2" y="2055.2" font-size="19.6" text-anchor="middle" fill="#111" style="font-family:'Liberation Serif',serif" textLength="34.4" lengthAdjust="spacingAndGlyphs">.048</text>
<text x="2494.7" y="2055.2" font-size="19.6" text-anchor="middle" fill="#111" style="font-family:'Liberation Serif',serif" textLength="34.4" lengthAdjust="spacingAndGlyphs">.303</text>
<text x="2573.3" y="2055.2" font-size="19.6" text-anchor="middle" fill="#111" style="font-family:'Liberation Serif',serif" textLength="94.6" lengthAdjust="spacingAndGlyphs">.103 ± .006</text>
<text x="2678.8" y="2055.2" font-size="19.6" text-anchor="middle" fill="#111" style="font-family:'Liberation Serif',serif" textLength="94.6" lengthAdjust="spacingAndGlyphs">.028 ± .003</text>
<text x="2759.6" y="2055.2" font-size="19.6" text-anchor="middle" fill="#111" style="font-family:'Liberation Serif',serif" textLength="34.4" lengthAdjust="spacingAndGlyphs">.072</text>
<text x="2809.5" y="2055.2" font-size="19.6" text-anchor="middle" fill="#111" style="font-family:'Liberation Serif',serif" textLength="34.4" lengthAdjust="spacingAndGlyphs">.072</text>
<text x="2858.8" y="2055.2" font-size="19.6" text-anchor="middle" fill="#111" style="font-family:'Liberation Serif',serif" textLength="34.4" lengthAdjust="spacingAndGlyphs">.089</text>
<text x="2908.8" y="2055.2" font-size="19.6" text-anchor="middle" fill="#111" style="font-family:'Liberation Serif',serif" textLength="34.4" lengthAdjust="spacingAndGlyphs">.089</text>
<text x="2958.2" y="2055.2" font-size="19.6" text-anchor="middle" fill="#111" style="font-family:'Liberation Serif',serif" textLength="34.4" lengthAdjust="spacingAndGlyphs">.060</text>
<text x="3008.0" y="2055.2" font-size="19.6" text-anchor="middle" fill="#111" style="font-family:'Liberation Serif',serif" textLength="34.4" lengthAdjust="spacingAndGlyphs">.099</text>
<text x="2172.6" y="2077.0" font-size="19.6" text-anchor="middle" fill="#111" style="font-family:'Liberation Serif',serif" textLength="122.0" lengthAdjust="spacingAndGlyphs">Subgraph GNN</text>
<text x="2296.5" y="2077.0" font-size="19.6" text-anchor="middle" fill="#111" style="font-family:'Liberation Serif',serif" textLength="34.4" lengthAdjust="spacingAndGlyphs">.011</text>
<text x="2346.0" y="2077.0" font-size="19.6" text-anchor="middle" fill="#111" style="font-family:'Liberation Serif',serif" textLength="34.4" lengthAdjust="spacingAndGlyphs">.013</text>
<text x="2395.6" y="2077.0" font-size="19.6" text-anchor="middle" fill="#111" style="font-family:'Liberation Serif',serif" textLength="34.4" lengthAdjust="spacingAndGlyphs">.010</text>
<text x="2445.2" y="2077.0" font-size="19.6" text-anchor="middle" fill="#111" style="font-family:'Liberation Serif',serif" textLength="34.4" lengthAdjust="spacingAndGlyphs">.015</text>
<text x="2494.7" y="2077.0" font-size="19.6" text-anchor="middle" fill="#111" style="font-family:'Liberation Serif',serif" textLength="34.4" lengthAdjust="spacingAndGlyphs">.260</text>
<text x="2573.3" y="2077.0" font-size="19.6" text-anchor="middle" fill="#111" style="font-family:'Liberation Serif',serif" textLength="94.6" lengthAdjust="spacingAndGlyphs">.110 ± .007</text>
<text x="2678.8" y="2077.0" font-size="19.6" text-anchor="middle" fill="#111" style="font-family:'Liberation Serif',serif" textLength="94.6" lengthAdjust="spacingAndGlyphs">.028 ± .002</text>
<text x="2759.6" y="2077.0" font-size="19.6" text-anchor="middle" fill="#111" style="font-family:'Liberation Serif',serif" textLength="34.4" lengthAdjust="spacingAndGlyphs">.010</text>
<text x="2809.5" y="2077.0" font-size="19.6" text-anchor="middle" fill="#111" style="font-family:'Liberation Serif',serif" textLength="34.4" lengthAdjust="spacingAndGlyphs">.020</text>
<text x="2858.8" y="2077.0" font-size="19.6" text-anchor="middle" fill="#111" style="font-family:'Liberation Serif',serif" textLength="34.4" lengthAdjust="spacingAndGlyphs">.024</text>
<text x="2908.8" y="2077.0" font-size="19.6" text-anchor="middle" fill="#111" style="font-family:'Liberation Serif',serif" textLength="34.4" lengthAdjust="spacingAndGlyphs">.046</text>
<text x="2958.2" y="2077.0" font-size="19.6" text-anchor="middle" fill="#111" style="font-family:'Liberation Serif',serif" textLength="34.4" lengthAdjust="spacingAndGlyphs">.007</text>
<text x="3008.0" y="2077.0" font-size="19.6" text-anchor="middle" fill="#111" style="font-family:'Liberation Serif',serif" textLength="34.4" lengthAdjust="spacingAndGlyphs">.027</text>
<text x="2172.6" y="2098.3" font-size="19.6" text-anchor="middle" fill="#111" style="font-family:'Liberation Serif',serif" textLength="107.5" lengthAdjust="spacingAndGlyphs">Local 2-GNN</text>
<text x="2296.5" y="2098.3" font-size="19.6" text-anchor="middle" fill="#111" style="font-family:'Liberation Serif',serif" textLength="34.4" lengthAdjust="spacingAndGlyphs">.008</text>
<text x="2346.0" y="2098.3" font-size="19.6" text-anchor="middle" fill="#111" style="font-family:'Liberation Serif',serif" textLength="34.4" lengthAdjust="spacingAndGlyphs">.006</text>
<text x="2395.6" y="2098.3" font-size="19.6" text-anchor="middle" fill="#111" style="font-family:'Liberation Serif',serif" textLength="34.4" lengthAdjust="spacingAndGlyphs">.008</text>
<text x="2445.2" y="2098.3" font-size="19.6" text-anchor="middle" fill="#111" style="font-family:'Liberation Serif',serif" textLength="34.4" lengthAdjust="spacingAndGlyphs">.008</text>
<text x="2494.7" y="2098.3" font-size="19.6" text-anchor="middle" fill="#111" style="font-family:'Liberation Serif',serif" textLength="34.4" lengthAdjust="spacingAndGlyphs">.112</text>
<text x="2573.3" y="2098.3" font-size="19.6" text-anchor="middle" fill="#111" style="font-family:'Liberation Serif',serif" textLength="94.6" lengthAdjust="spacingAndGlyphs">.069 ± .001</text>
<text x="2678.8" y="2098.3" font-size="19.6" text-anchor="middle" fill="#111" style="font-family:'Liberation Serif',serif" textLength="94.6" lengthAdjust="spacingAndGlyphs">.024 ± .002</text>
<text x="2759.6" y="2098.3" font-size="19.6" text-anchor="middle" fill="#111" style="font-family:'Liberation Serif',serif" textLength="34.4" lengthAdjust="spacingAndGlyphs">.008</text>
<text x="2809.5" y="2098.3" font-size="19.6" text-anchor="middle" fill="#111" style="font-family:'Liberation Serif',serif" textLength="34.4" lengthAdjust="spacingAndGlyphs">.011</text>
<text x="2858.8" y="2098.3" font-size="19.6" text-anchor="middle" fill="#111" style="font-family:'Liberation Serif',serif" textLength="34.4" lengthAdjust="spacingAndGlyphs">.017</text>
<text x="2908.8" y="2098.3" font-size="19.6" text-anchor="middle" fill="#111" style="font-family:'Liberation Serif',serif" textLength="34.4" lengthAdjust="spacingAndGlyphs">.034</text>
<text x="2958.2" y="2098.3" font-size="19.6" text-anchor="middle" fill="#111" style="font-family:'Liberation Serif',serif" textLength="34.4" lengthAdjust="spacingAndGlyphs">.007</text>
<text x="3008.0" y="2098.3" font-size="19.6" text-anchor="middle" fill="#111" style="font-family:'Liberation Serif',serif" textLength="34.4" lengthAdjust="spacingAndGlyphs">.016</text>
<line x1="2283.9" y1="1985.5" x2="2308.7" y2="1985.5" stroke="#222" stroke-width="0.8"/>
<line x1="2308.7" y1="1985.5" x2="2308.7" y2="2009.9" stroke="#222" stroke-width="0.8"/>
<line x1="2308.7" y1="2009.9" x2="2283.9" y2="2009.9" stroke="#222" stroke-width="0.8"/>
<line x1="2283.9" y1="2009.9" x2="2283.9" y2="1985.5" stroke="#222" stroke-width="0.8"/>
<line x1="2283.9" y1="1985.5" x2="2308.7" y2="2009.9" stroke="#222" stroke-width="0.8"/>
<circle cx="2283.9" cy="1985.5" r="2.1" fill="#000"/>
<circle cx="2308.7" cy="1985.5" r="2.1" fill="#000"/>
<circle cx="2308.7" cy="2009.9" r="2.1" fill="#000"/>
<circle cx="2283.9" cy="2009.9" r="2.1" fill="#000"/>
<line x1="2329.4" y1="1990.5" x2="2329.4" y2="2007.3" stroke="#222" stroke-width="1"/>
<line x1="2362.3" y1="1990.5" x2="2362.3" y2="2007.3" stroke="#222" stroke-width="1"/>
<line x1="2329.4" y1="1990.5" x2="2345.9" y2="1998.8" stroke="#222" stroke-width="1"/>
<line x1="2345.9" y1="1998.8" x2="2362.3" y2="2007.3" stroke="#222" stroke-width="1"/>
<line x1="2329.4" y1="2007.3" x2="2345.9" y2="1998.8" stroke="#222" stroke-width="1"/>
<line x1="2345.9" y1="1998.8" x2="2362.3" y2="1990.5" stroke="#222" stroke-width="1"/>
<circle cx="2329.4" cy="1990.5" r="2.1" fill="#000"/>
<circle cx="2329.4" cy="2007.3" r="2.1" fill="#000"/>
<circle cx="2345.9" cy="1998.8" r="2.1" fill="#000"/>
<circle cx="2362.3" cy="1990.5" r="2.1" fill="#000"/>
<circle cx="2362.3" cy="2007.3" r="2.1" fill="#000"/>
<line x1="2395.6" y1="1983.8" x2="2410.6" y2="1994.9" stroke="#222" stroke-width="0.8"/>
<line x1="2410.6" y1="1994.9" x2="2405.2" y2="2012.8" stroke="#222" stroke-width="0.8"/>
<line x1="2405.2" y1="2012.8" x2="2386.0" y2="2012.8" stroke="#222" stroke-width="0.8"/>
<line x1="2386.0" y1="2012.8" x2="2380.6" y2="1994.9" stroke="#222" stroke-width="0.8"/>
<line x1="2380.6" y1="1994.9" x2="2395.6" y2="1983.8" stroke="#222" stroke-width="0.8"/>
<line x1="2395.6" y1="1983.8" x2="2405.2" y2="2012.8" stroke="#222" stroke-width="0.8"/>
<line x1="2395.6" y1="1983.8" x2="2386.0" y2="2012.8" stroke="#222" stroke-width="0.8"/>
<circle cx="2395.6" cy="1983.8" r="2.1" fill="#000"/>
<circle cx="2410.6" cy="1994.9" r="2.1" fill="#000"/>
<circle cx="2405.2" cy="2012.8" r="2.1" fill="#000"/>
<circle cx="2386.0" cy="2012.8" r="2.1" fill="#000"/>
<circle cx="2380.6" cy="1994.9" r="2.1" fill="#000"/>
<line x1="2437.4" y1="1983.8" x2="2453.5" y2="1983.8" stroke="#222" stroke-width="0.8"/>
<line x1="2453.5" y1="1983.8" x2="2462.2" y2="1998.8" stroke="#222" stroke-width="0.8"/>
<line x1="2462.2" y1="1998.8" x2="2453.5" y2="2012.8" stroke="#222" stroke-width="0.8"/>
<line x1="2453.5" y1="2012.8" x2="2437.4" y2="2012.8" stroke="#222" stroke-width="0.8"/>
<line x1="2437.4" y1="2012.8" x2="2428.5" y2="1998.8" stroke="#222" stroke-width="0.8"/>
<line x1="2428.5" y1="1998.8" x2="2437.4" y2="1983.8" stroke="#222" stroke-width="0.8"/>
<line x1="2437.4" y1="1983.8" x2="2437.4" y2="2012.8" stroke="#222" stroke-width="0.8"/>
<line x1="2453.5" y1="1983.8" x2="2453.5" y2="2012.8" stroke="#222" stroke-width="0.8"/>
<circle cx="2437.4" cy="1983.8" r="2.1" fill="#000"/>
<circle cx="2453.5" cy="1983.8" r="2.1" fill="#000"/>
<circle cx="2462.2" cy="1998.8" r="2.1" fill="#000"/>
<circle cx="2453.5" cy="2012.8" r="2.1" fill="#000"/>
<circle cx="2437.4" cy="2012.8" r="2.1" fill="#000"/>
<circle cx="2428.5" cy="1998.8" r="2.1" fill="#000"/>
<line x1="2480.3" y1="1983.8" x2="2509.7" y2="1983.8" stroke="#000" stroke-width="1.3"/>
<line x1="2509.7" y1="1983.8" x2="2509.7" y2="2013.2" stroke="#000" stroke-width="1.3"/>
<line x1="2509.7" y1="2013.2" x2="2480.3" y2="2013.2" stroke="#000" stroke-width="1.3"/>
<line x1="2480.3" y1="2013.2" x2="2480.3" y2="1983.8" stroke="#000" stroke-width="1.3"/>
<line x1="2480.3" y1="1983.8" x2="2509.7" y2="2013.2" stroke="#000" stroke-width="1.3"/>
<line x1="2509.7" y1="1983.8" x2="2480.3" y2="2013.2" stroke="#000" stroke-width="1.3"/>
<circle cx="2480.3" cy="1983.8" r="2.1" fill="#000"/>
<circle cx="2509.7" cy="1983.8" r="2.1" fill="#000"/>
<circle cx="2509.7" cy="2013.2" r="2.1" fill="#000"/>
<circle cx="2480.3" cy="2013.2" r="2.1" fill="#000"/>
<line x1="2757.1" y1="1984.9" x2="2771.9" y2="2010.1" stroke="#222" stroke-width="0.8"/>
<line x1="2771.9" y1="2010.1" x2="2742.5" y2="2010.1" stroke="#222" stroke-width="0.8"/>
<line x1="2742.5" y1="2010.1" x2="2757.1" y2="1984.9" stroke="#222" stroke-width="0.8"/>
<circle cx="2757.1" cy="1984.9" r="2.1" fill="#000"/>
<circle cx="2771.9" cy="2010.1" r="2.1" fill="#000"/>
<circle cx="2742.5" cy="2010.1" r="2.1" fill="#000"/>
<line x1="2794.1" y1="1985.5" x2="2819.4" y2="1985.5" stroke="#222" stroke-width="0.8"/>
<line x1="2819.4" y1="1985.5" x2="2819.4" y2="2009.9" stroke="#222" stroke-width="0.8"/>
<line x1="2819.4" y1="2009.9" x2="2794.1" y2="2009.9" stroke="#222" stroke-width="0.8"/>
<line x1="2794.1" y1="2009.9" x2="2794.1" y2="1985.5" stroke="#222" stroke-width="0.8"/>
<circle cx="2794.1" cy="1985.5" r="2.1" fill="#000"/>
<circle cx="2819.4" cy="1985.5" r="2.1" fill="#000"/>
<circle cx="2819.4" cy="2009.9" r="2.1" fill="#000"/>
<circle cx="2794.1" cy="2009.9" r="2.1" fill="#000"/>
<line x1="2856.4" y1="1983.8" x2="2871.4" y2="1994.9" stroke="#222" stroke-width="0.8"/>
<line x1="2871.4" y1="1994.9" x2="2866.0" y2="2012.8" stroke="#222" stroke-width="0.8"/>
<line x1="2866.0" y1="2012.8" x2="2847.1" y2="2012.8" stroke="#222" stroke-width="0.8"/>
<line x1="2847.1" y1="2012.8" x2="2841.6" y2="1994.9" stroke="#222" stroke-width="0.8"/>
<line x1="2841.6" y1="1994.9" x2="2856.4" y2="1983.8" stroke="#222" stroke-width="0.8"/>
<circle cx="2856.4" cy="1983.8" r="2.1" fill="#000"/>
<circle cx="2871.4" cy="1994.9" r="2.1" fill="#000"/>
<circle cx="2866.0" cy="2012.8" r="2.1" fill="#000"/>
<circle cx="2847.1" cy="2012.8" r="2.1" fill="#000"/>
<circle cx="2841.6" cy="1994.9" r="2.1" fill="#000"/>
<line x1="2898.2" y1="1983.8" x2="2914.6" y2="1983.8" stroke="#222" stroke-width="0.8"/>
<line x1="2914.6" y1="1983.8" x2="2922.8" y2="1998.8" stroke="#222" stroke-width="0.8"/>
<line x1="2922.8" y1="1998.8" x2="2914.6" y2="2012.8" stroke="#222" stroke-width="0.8"/>
<line x1="2914.6" y1="2012.8" x2="2898.2" y2="2012.8" stroke="#222" stroke-width="0.8"/>
<line x1="2898.2" y1="2012.8" x2="2889.1" y2="1998.8" stroke="#222" stroke-width="0.8"/>
<line x1="2889.1" y1="1998.8" x2="2898.2" y2="1983.8" stroke="#222" stroke-width="0.8"/>
<circle cx="2898.2" cy="1983.8" r="2.1" fill="#000"/>
<circle cx="2914.6" cy="1983.8" r="2.1" fill="#000"/>
<circle cx="2922.8" cy="1998.8" r="2.1" fill="#000"/>
<circle cx="2914.6" cy="2012.8" r="2.1" fill="#000"/>
<circle cx="2898.2" cy="2012.8" r="2.1" fill="#000"/>
<circle cx="2889.1" cy="1998.8" r="2.1" fill="#000"/>
<line x1="2943.3" y1="1985.5" x2="2967.9" y2="1985.5" stroke="#222" stroke-width="0.8"/>
<line x1="2967.9" y1="1985.5" x2="2967.9" y2="2009.9" stroke="#222" stroke-width="0.8"/>
<line x1="2967.9" y1="2009.9" x2="2943.3" y2="2009.9" stroke="#222" stroke-width="0.8"/>
<line x1="2943.3" y1="2009.9" x2="2943.3" y2="1985.5" stroke="#222" stroke-width="0.8"/>
<line x1="2943.3" y1="1985.5" x2="2967.9" y2="2009.9" stroke="#222" stroke-width="0.8"/>
<circle cx="2943.3" cy="1985.5" r="2.1" fill="#000"/>
<circle cx="2967.9" cy="1985.5" r="2.1" fill="#000"/>
<circle cx="2967.9" cy="2009.9" r="2.1" fill="#000"/>
<circle cx="2943.3" cy="2009.9" r="2.1" fill="#000"/>
<line x1="3005.4" y1="1983.8" x2="3020.2" y2="1994.9" stroke="#222" stroke-width="0.8"/>
<line x1="3020.2" y1="1994.9" x2="3014.7" y2="2012.8" stroke="#222" stroke-width="0.8"/>
<line x1="3014.7" y1="2012.8" x2="2995.8" y2="2012.8" stroke="#222" stroke-width="0.8"/>
<line x1="2995.8" y1="2012.8" x2="2990.3" y2="1994.9" stroke="#222" stroke-width="0.8"/>
<line x1="2990.3" y1="1994.9" x2="3005.4" y2="1983.8" stroke="#222" stroke-width="0.8"/>
<line x1="3005.4" y1="1983.8" x2="3014.7" y2="2012.8" stroke="#222" stroke-width="0.8"/>
<line x1="3005.4" y1="1983.8" x2="2995.8" y2="2012.8" stroke="#222" stroke-width="0.8"/>
<circle cx="3005.4" cy="1983.8" r="2.1" fill="#000"/>
<circle cx="3020.2" cy="1994.9" r="2.1" fill="#000"/>
<circle cx="3014.7" cy="2012.8" r="2.1" fill="#000"/>
<circle cx="2995.8" cy="2012.8" r="2.1" fill="#000"/>
<circle cx="2990.3" cy="1994.9" r="2.1" fill="#000"/>
<line x1="1024.5" y1="188.0" x2="1018.5" y2="2135.7" stroke="#7030a0" stroke-width="5"/>
<line x1="2047.0" y1="188.0" x2="2041.4" y2="2145.0" stroke="#7030a0" stroke-width="4.6"/>
<defs>
<radialGradient id="gH" cx=".4" cy=".35" r=".7"><stop offset="0" stop-color="#fff"/><stop offset=".55" stop-color="#ececec"/><stop offset="1" stop-color="#b4b4b4"/></radialGradient>
<radialGradient id="gC" cx=".42" cy=".35" r=".7"><stop offset="0" stop-color="#9c9c9c"/><stop offset=".6" stop-color="#7e7e7e"/><stop offset="1" stop-color="#5a5a5a"/></radialGradient>
<radialGradient id="gO" cx=".45" cy=".4" r=".65"><stop offset="0" stop-color="#ff1a1a"/><stop offset=".65" stop-color="#f00c0c"/><stop offset="1" stop-color="#b80606"/></radialGradient>
<radialGradient id="gN" cx=".42" cy=".38" r=".7"><stop offset="0" stop-color="#2a55f2"/><stop offset=".6" stop-color="#1a3ee0"/><stop offset="1" stop-color="#1026a8"/></radialGradient>
</defs>
<line x1="858.8" y1="186.8" x2="869.4" y2="207.6" stroke="#cfcfcf" stroke-width="4.2"/>
<line x1="869.4" y1="207.6" x2="879.9" y2="228.5" stroke="#cfcfcf" stroke-width="4.2"/>
<line x1="879.9" y1="228.5" x2="909.7" y2="219.4" stroke="#c4c4c4" stroke-width="4.2"/>
<line x1="909.7" y1="219.4" x2="939.6" y2="210.3" stroke="#8fa0e8" stroke-width="4.2"/>
<line x1="939.6" y1="210.3" x2="958.8" y2="212.4" stroke="#8fa0e8" stroke-width="4.2"/>
<line x1="958.8" y1="212.4" x2="978.1" y2="214.6" stroke="#dcdcdc" stroke-width="4.2"/>
<line x1="939.6" y1="210.3" x2="944.4" y2="228.1" stroke="#8fa0e8" stroke-width="4.2"/>
<line x1="944.4" y1="228.1" x2="949.3" y2="245.9" stroke="#dcdcdc" stroke-width="4.2"/>
<line x1="879.9" y1="228.5" x2="852.4" y2="246.1" stroke="#cfcfcf" stroke-width="4.2"/>
<line x1="852.4" y1="246.1" x2="824.9" y2="263.8" stroke="#cfcfcf" stroke-width="4.2"/>
<line x1="824.9" y1="263.8" x2="795.5" y2="263.9" stroke="#c8c8c8" stroke-width="4.2"/>
<line x1="795.5" y1="263.9" x2="766.1" y2="264.0" stroke="#f07878" stroke-width="4.2"/>
<line x1="766.1" y1="264.0" x2="770.2" y2="251.4" stroke="#f09090" stroke-width="4.2"/>
<line x1="770.2" y1="251.4" x2="774.3" y2="238.8" stroke="#dcdcdc" stroke-width="4.2"/>
<line x1="824.9" y1="263.8" x2="828.5" y2="281.1" stroke="#c0c0c0" stroke-width="4.2"/>
<line x1="828.5" y1="281.1" x2="832.1" y2="298.5" stroke="#f07878" stroke-width="4.2"/>
<line x1="879.9" y1="228.5" x2="886.1" y2="247.9" stroke="#cfcfcf" stroke-width="4.2"/>
<line x1="886.1" y1="247.9" x2="892.3" y2="267.3" stroke="#cfcfcf" stroke-width="4.2"/>
<line x1="892.3" y1="267.3" x2="874.6" y2="268.8" stroke="#c8c8c8" stroke-width="4.2"/>
<line x1="874.6" y1="268.8" x2="857.0" y2="270.2" stroke="#e4e4e4" stroke-width="4.2"/>
<line x1="892.3" y1="267.3" x2="907.0" y2="257.3" stroke="#c8c8c8" stroke-width="4.2"/>
<line x1="907.0" y1="257.3" x2="921.7" y2="247.3" stroke="#e4e4e4" stroke-width="4.2"/>
<line x1="892.3" y1="267.3" x2="900.6" y2="288.8" stroke="#c8c8c8" stroke-width="4.2"/>
<line x1="900.6" y1="288.8" x2="909.0" y2="310.2" stroke="#e4e4e4" stroke-width="4.2"/>
<circle cx="921.7" cy="247.3" r="8.2" fill="url(#gH)"/>
<circle cx="857.0" cy="270.2" r="8.2" fill="url(#gH)"/>
<circle cx="774.3" cy="238.8" r="9.6" fill="url(#gH)"/>
<circle cx="858.8" cy="186.8" r="10.0" fill="url(#gH)"/>
<circle cx="978.1" cy="214.6" r="10.3" fill="url(#gH)"/>
<circle cx="766.1" cy="264.0" r="12.0" fill="url(#gO)"/>
<circle cx="892.3" cy="267.3" r="12.3" fill="url(#gC)"/>
<circle cx="879.9" cy="228.5" r="14.1" fill="url(#gC)"/>
<circle cx="824.9" cy="263.8" r="15.3" fill="url(#gC)"/>
<circle cx="939.6" cy="210.3" r="14.1" fill="url(#gN)"/>
<circle cx="949.3" cy="245.9" r="12.3" fill="url(#gH)"/>
<circle cx="832.1" cy="298.5" r="15.1" fill="url(#gO)"/>
<circle cx="909.0" cy="310.2" r="9.4" fill="url(#gH)"/>
<path d="M57.3 14.5 L67.9 11.0 L80.1 13.0 L92.3 19.8 L99.2 28.2 L101.5 30.5 L113.7 35.8 L124.3 39.9 L122.0 45.7 L121.0 50.3 L123.6 54.1 L122.5 57.9 L124.0 61.0 L122.8 64.8 L127.4 71.6 L128.1 76.2 L125.9 80.0 L119.8 83.5 L109.1 89.2 L102.7 95.7 L104.5 85.4 L105.3 74.7 L109.1 74.7 L109.1 67.1 L103.0 67.1 L103.0 61.0 L107.6 61.0 L107.6 54.1 L103.0 54.1 L103.0 48.8 L99.2 48.8 L99.2 43.4 L94.6 43.4 L94.6 38.1 L90.8 38.1 L90.8 31.3 L86.2 31.3 L86.2 27.4 L81.6 27.4 L81.6 22.9 L74.0 21.3 L66.4 17.5Z" fill="#3d4056"/>
<rect x="83.0" y="20.4" width="3.4" height="3.4" fill="#fff"/>
<rect x="94.0" y="30.6" width="4.3" height="4.3" fill="#fff"/>
<rect x="104.5" y="55.9" width="2.6" height="2.6" fill="#fff"/>
<rect x="109.0" y="73.8" width="4.8" height="4.8" fill="#fff"/>
<rect x="97.8" y="62.7" width="4.3" height="4.3" fill="#3d4056"/>
<rect x="108.3" y="69.3" width="3.1" height="3.1" fill="#3d4056"/>
<line x1="46.6" y1="82.3" x2="55.7" y2="72.9" stroke="#7ebd4c" stroke-width="1.6"/>
<line x1="61.8" y1="83.8" x2="70.2" y2="74.7" stroke="#69b962" stroke-width="1.6"/>
<line x1="85.5" y1="82.3" x2="93.8" y2="73.9" stroke="#66bde9" stroke-width="1.6"/>
<line x1="56.5" y1="61.0" x2="66.4" y2="51.1" stroke="#86c145" stroke-width="1.6"/>
<line x1="70.2" y1="61.7" x2="80.9" y2="51.5" stroke="#70b946" stroke-width="1.6"/>
<line x1="49.9" y1="51.8" x2="64.9" y2="35.8" stroke="#a0cc46" stroke-width="1.6"/>
<line x1="35.6" y1="36.9" x2="41.6" y2="31.3" stroke="#cbe25a" stroke-width="1.6"/>
<line x1="66.4" y1="51.1" x2="79.8" y2="38.1" stroke="#8cc444" stroke-width="1.6"/>
<line x1="27.1" y1="58.7" x2="32.9" y2="52.6" stroke="#c8e05a" stroke-width="1.6"/>
<line x1="83.9" y1="64.0" x2="92.0" y2="56.4" stroke="#67be88" stroke-width="1.6"/>
<rect x="40.0" y="17.1" width="3.1" height="3.1" fill="#cbe25e"/>
<rect x="51.1" y="15.2" width="1.7" height="1.7" fill="#d2e374"/>
<rect x="44.9" y="21.5" width="4.3" height="4.3" fill="#c5de52"/>
<rect x="53.1" y="19.5" width="6.8" height="6.8" fill="#bdd94a"/>
<rect x="63.3" y="23.0" width="3.8" height="3.8" fill="#b5d648"/>
<rect x="70.6" y="22.5" width="6.1" height="6.1" fill="#a9d148"/>
<rect x="33.2" y="34.5" width="4.8" height="4.8" fill="#cbe25a"/>
<rect x="46.9" y="30.0" width="8.5" height="8.5" fill="#b8d848"/>
<rect x="59.9" y="30.9" width="9.9" height="9.9" fill="#a2cd45"/>
<rect x="75.4" y="33.7" width="8.9" height="8.9" fill="#8dc544"/>
<rect x="86.8" y="38.7" width="3.4" height="3.4" fill="#6fba4c"/>
<rect x="38.8" y="43.7" width="3.4" height="3.4" fill="#c2dd52"/>
<rect x="47.8" y="41.9" width="3.1" height="3.1" fill="#b1d54c"/>
<rect x="30.1" y="49.9" width="5.5" height="5.5" fill="#c6de56"/>
<rect x="25.9" y="57.5" width="2.4" height="2.4" fill="#d0e468"/>
<rect x="46.4" y="48.2" width="7.2" height="7.2" fill="#9ac948"/>
<rect x="62.1" y="46.8" width="8.5" height="8.5" fill="#86c145"/>
<rect x="76.8" y="47.4" width="8.2" height="8.2" fill="#6eb945"/>
<rect x="93.8" y="47.2" width="3.8" height="3.8" fill="#6dc18c"/>
<rect x="90.5" y="54.9" width="3.1" height="3.1" fill="#69c090"/>
<rect x="39.7" y="58.7" width="3.1" height="3.1" fill="#aad14c"/>
<rect x="53.9" y="58.4" width="5.1" height="5.1" fill="#86c148"/>
<rect x="67.0" y="58.5" width="6.5" height="6.5" fill="#72b94c"/>
<rect x="80.3" y="60.4" width="7.2" height="7.2" fill="#65bd82"/>
<rect x="53.9" y="71.0" width="3.8" height="3.8" fill="#7ebd4c"/>
<rect x="65.9" y="70.4" width="8.5" height="8.5" fill="#69b962"/>
<rect x="80.9" y="72.7" width="3.1" height="3.1" fill="#62c2c2"/>
<rect x="90.4" y="70.5" width="6.8" height="6.8" fill="#69c1e9"/>
<rect x="42.1" y="77.9" width="8.9" height="8.9" fill="#79bd49"/>
<rect x="59.4" y="81.5" width="4.8" height="4.8" fill="#69b969"/>
<rect x="83.8" y="80.6" width="3.4" height="3.4" fill="#62bae9"/>
<rect x="94.6" y="81.5" width="3.1" height="3.1" fill="#62bae9"/>
<path d="M2348.1 23.4 Q2347.8 15.6 2357.2 10.3 Q2366.9 9.3 2376.7 12.8 Q2392.7 14.7 2403.4 10.0 Q2400.8 18.4 2391.3 23.4 Q2379.0 24.3 2376.0 21.3 Q2361.4 17.5 2348.1 23.4Z" fill="#14245e"/>
<g transform="translate(2380.5 79.9)" fill="#14245e"><clipPath id="gclip"><rect x="-40" y="-20" width="80" height="60"/></clipPath><g clip-path="url(#gclip)"><rect x="-3.3" y="-30.0" width="6.6" height="6.7" transform="rotate(180.0)"/><rect x="-3.3" y="-30.0" width="6.6" height="6.7" transform="rotate(202.5)"/><rect x="-3.3" y="-30.0" width="6.6" height="6.7" transform="rotate(225.0)"/><rect x="-3.3" y="-30.0" width="6.6" height="6.7" transform="rotate(247.5)"/><rect x="-3.3" y="-30.0" width="6.6" height="6.7" transform="rotate(270.0)"/><rect x="-3.3" y="-30.0" width="6.6" height="6.7" transform="rotate(292.5)"/><rect x="-3.3" y="-30.0" width="6.6" height="6.7" transform="rotate(315.0)"/><rect x="-3.3" y="-30.0" width="6.6" height="6.7" transform="rotate(337.5)"/><rect x="-3.3" y="-30.0" width="6.6" height="6.7" transform="rotate(360.0)"/><rect x="-3.3" y="-30.0" width="6.6" height="6.7" transform="rotate(382.5)"/><rect x="-3.3" y="-30.0" width="6.6" height="6.7" transform="rotate(405.0)"/><rect x="-3.3" y="-30.0" width="6.6" height="6.7" transform="rotate(427.5)"/><rect x="-3.3" y="-30.0" width="6.6" height="6.7" transform="rotate(450.0)"/><rect x="-3.3" y="-30.0" width="6.6" height="6.7" transform="rotate(472.5)"/><rect x="-3.3" y="-30.0" width="6.6" height="6.7" transform="rotate(495.0)"/><rect x="-3.3" y="-30.0" width="6.6" height="6.7" transform="rotate(517.5)"/><circle r="20.9" fill="none" stroke="#14245e" stroke-width="7.8"/></g></g>
<polygon points="2343.9 26.5 2417.1 26.5 2380.5 110.1" fill="#fff" opacity="0"/>
<polygon points="2358.6 46.0 2402.5 46.0 2380.5 97.6" fill="#fff"/>
<path d="M2349.5 28.3 2411.5 28.3 2380.5 102.4Z M2370.7 37.4 2396.6 37.4 2383.2 68.6Z" fill="#14245e" fill-rule="evenodd"/>
<polygon points="2370.7 37.4 2364.8 37.4 2380.5 78.0 2383.2 68.6" fill="#14245e"/>
<circle cx="2701.0" cy="75.5" r="50.6" fill="#fff" stroke="#9e1b1f" stroke-width="1.6"/>
<circle cx="2701.0" cy="75.5" r="36.6" fill="none" stroke="#9e1b1f" stroke-width="0.9"/>
<circle cx="2701.0" cy="75.5" r="33.6" fill="#9e1b1f"/>
<path id="pkarc" d="M2664.2 91.9 A40.3 40.3 0 1 1 2737.8 91.9" fill="none"/>
<text font-size="9.6" fill="#9e1b1f" font-weight="bold" textLength="160.4" lengthAdjust="spacing" style="font-family:'Liberation Serif',serif"><textPath href="#pkarc" textLength="160.4" lengthAdjust="spacing">PEKING UNIVERSITY</textPath></text>
<path id="pkarc2" d="M2671.0 109.0 A46 46 0 0 0 2731.0 109.0" fill="none"/>
<text font-size="9.6" fill="#9e1b1f" font-weight="bold" font-style="italic" letter-spacing="4.2" style="font-family:'Liberation Serif',serif"><textPath href="#pkarc2" startOffset="50%" text-anchor="middle">1898</textPath></text>
<path d="M2696.7 48.9 Q2696.7 58.8 2696.7 69.8" fill="none" stroke="#fff" stroke-width="4.6" stroke-linecap="round"/>
<path d="M2705.2 48.9 Q2705.2 58.8 2705.2 69.8" fill="none" stroke="#fff" stroke-width="4.6" stroke-linecap="round"/>
<path d="M2695.2 59.1 Q2684.2 58.5 2676.3 65.2" fill="none" stroke="#fff" stroke-width="4.6" stroke-linecap="round"/>
<path d="M2706.8 59.1 Q2717.7 58.5 2725.7 65.2" fill="none" stroke="#fff" stroke-width="4.6" stroke-linecap="round"/>
<path d="M2695.2 69.1 Q2683.4 70.2 2675.4 82.9" fill="none" stroke="#fff" stroke-width="4.6" stroke-linecap="round"/>
<path d="M2706.8 69.1 Q2718.5 70.2 2726.6 82.9" fill="none" stroke="#fff" stroke-width="4.6" stroke-linecap="round"/>
<path d="M2699.8 74.8 Q2693.4 86.2 2690.3 101.2" fill="none" stroke="#fff" stroke-width="4.6" stroke-linecap="round"/>
<path d="M2702.2 74.8 Q2708.6 86.2 2711.6 101.2" fill="none" stroke="#fff" stroke-width="4.6" stroke-linecap="round"/>
<path d="M2694.1 77.8 Q2685.0 84.7 2681.5 96.6" fill="none" stroke="#fff" stroke-width="4.6" stroke-linecap="round"/>
<path d="M2707.8 77.8 Q2717.0 84.7 2720.5 96.6" fill="none" stroke="#fff" stroke-width="4.6" stroke-linecap="round"/></svg>
<div class="wm">试用水印</div>
</body></html>
